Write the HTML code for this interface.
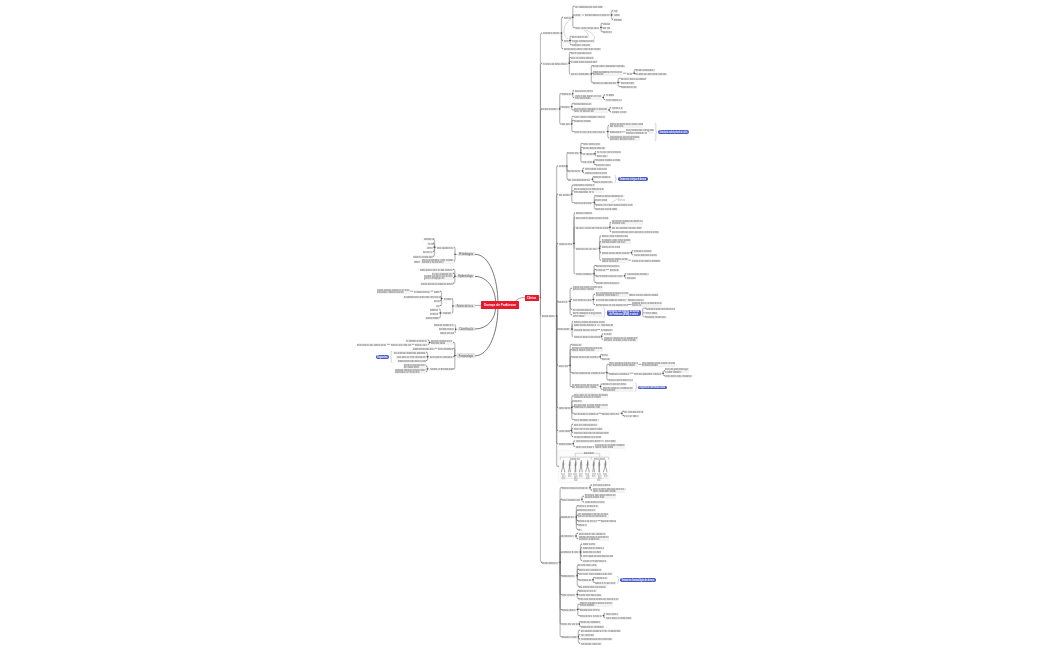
<!DOCTYPE html>
<html><head><meta charset="utf-8"><style>
html,body{margin:0;padding:0;background:#fff;width:1050px;height:650px;overflow:hidden}
.t{position:absolute;font-family:"Liberation Serif",serif;font-size:3.4px;line-height:2.1px;white-space:nowrap;transform:scaleX(0.58);transform-origin:0 0}
.t div{overflow:hidden;height:2.1px}
.u{position:absolute;background:#f3f3f3;border-radius:0.3px}
.box{position:absolute;font-family:"Liberation Sans",sans-serif;white-space:nowrap;display:flex;align-items:center;justify-content:center;overflow:visible}
.box span{display:inline-block;white-space:nowrap}
svg{position:absolute;left:0;top:0}
</style></head><body>
<svg width="1050" height="650" viewBox="0 0 1050 650">
<rect x="558.8" y="450.1" width="50.9" height="32.2" fill="#fcfcfc" stroke="#eee" stroke-width="0.4"/>
<path d="M540.40,297.60 V35.00 Q540.40,33.00 542.40,33.00 H542.20" stroke="#707070" stroke-width="1.0" fill="none" opacity="0.5"/>
<path d="M541.20,32.45 L542.30,33.00 L541.20,33.55z" fill="#666"/>
<path d="M540.40,297.60 V65.30 Q540.40,63.30 542.40,63.30 H542.20" stroke="#707070" stroke-width="1.0" fill="none" opacity="0.5"/>
<path d="M541.20,62.75 L542.30,63.30 L541.20,63.85z" fill="#666"/>
<path d="M540.40,297.60 V110.90 Q540.40,108.90 542.40,108.90 H542.10" stroke="#707070" stroke-width="1.0" fill="none" opacity="0.5"/>
<path d="M541.10,108.35 L542.20,108.90 L541.10,109.45z" fill="#666"/>
<path d="M540.40,297.60 V313.90 Q540.40,315.90 542.40,315.90 H541.40" stroke="#707070" stroke-width="1.0" fill="none" opacity="0.5"/>
<path d="M540.40,315.35 L541.50,315.90 L540.40,316.45z" fill="#666"/>
<path d="M540.40,297.60 V560.40 Q540.40,562.40 542.40,562.40 H542.10" stroke="#707070" stroke-width="1.0" fill="none" opacity="0.5"/>
<path d="M541.10,561.85 L542.20,562.40 L541.10,562.95z" fill="#666"/>
<path d="M556.60,315.90 V464.30 Q556.60,466.30 558.60,466.30 H558.80" stroke="#707070" stroke-width="1.3" fill="none" opacity="0.45"/>
<path d="M557.80,465.75 L558.90,466.30 L557.80,466.85z" fill="#666"/>
<path d="M559.30,33.00 H561.50" stroke="#8a8a8a" stroke-width="0.7" fill="none" opacity="0.8"/>
<path d="M561.50,33.00 V18.70 Q561.50,17.20 563.00,17.20 H563.20" stroke="#707070" stroke-width="1.3" fill="none" opacity="0.45"/>
<path d="M562.20,16.65 L563.30,17.20 L562.20,17.75z" fill="#666"/>
<path d="M561.50,33.00 V39.00 Q561.50,40.50 563.00,40.50 H563.20" stroke="#707070" stroke-width="1.3" fill="none" opacity="0.45"/>
<path d="M562.20,39.95 L563.30,40.50 L562.20,41.05z" fill="#666"/>
<path d="M561.50,33.00 V47.20 Q561.50,48.70 563.00,48.70 H563.20" stroke="#707070" stroke-width="1.3" fill="none" opacity="0.45"/>
<path d="M562.20,48.15 L563.30,48.70 L562.20,49.25z" fill="#666"/>
<circle cx="561.50" cy="33.00" r="0.75" fill="#444"/>
<path d="M571.30,17.20 H572.80" stroke="#8a8a8a" stroke-width="0.7" fill="none" opacity="0.8"/>
<path d="M572.80,17.20 V7.70 Q572.80,6.20 574.30,6.20 H574.70" stroke="#707070" stroke-width="1.3" fill="none" opacity="0.45"/>
<path d="M573.70,5.65 L574.80,6.20 L573.70,6.75z" fill="#666"/>
<path d="M572.80,17.20 V16.50 Q572.80,15.00 574.30,15.00 H574.70" stroke="#707070" stroke-width="1.3" fill="none" opacity="0.45"/>
<path d="M573.70,14.45 L574.80,15.00 L573.70,15.55z" fill="#666"/>
<path d="M572.80,17.20 V26.00 Q572.80,27.50 574.30,27.50 H574.70" stroke="#707070" stroke-width="1.3" fill="none" opacity="0.45"/>
<path d="M573.70,26.95 L574.80,27.50 L573.70,28.05z" fill="#666"/>
<circle cx="572.80" cy="17.20" r="0.75" fill="#444"/>
<path d="M581.50,15.00 H584.00" stroke="#666" stroke-width="0.6" fill="none" opacity="1"/>
<path d="M609.30,15.00 H611.50" stroke="#8a8a8a" stroke-width="0.7" fill="none" opacity="0.8"/>
<path d="M611.50,15.00 V12.00 Q611.50,10.50 613.00,10.50 H613.20" stroke="#707070" stroke-width="1.3" fill="none" opacity="0.45"/>
<path d="M612.20,9.95 L613.30,10.50 L612.20,11.05z" fill="#666"/>
<path d="M611.50,15.00 H613.20" stroke="#707070" stroke-width="1.3" fill="none" opacity="0.45"/>
<path d="M611.50,15.00 V17.80 Q611.50,19.30 613.00,19.30 H613.20" stroke="#707070" stroke-width="1.3" fill="none" opacity="0.45"/>
<path d="M612.20,18.75 L613.30,19.30 L612.20,19.85z" fill="#666"/>
<circle cx="611.50" cy="15.00" r="0.75" fill="#444"/>
<path d="M599.30,27.50 H601.00" stroke="#8a8a8a" stroke-width="0.7" fill="none" opacity="0.8"/>
<path d="M601.00,27.50 V24.80 Q601.00,23.30 602.50,23.30 H602.70" stroke="#707070" stroke-width="1.3" fill="none" opacity="0.45"/>
<path d="M601.70,22.75 L602.80,23.30 L601.70,23.85z" fill="#666"/>
<path d="M601.00,27.50 H602.70" stroke="#707070" stroke-width="1.3" fill="none" opacity="0.45"/>
<path d="M601.00,27.50 V30.30 Q601.00,31.80 602.50,31.80 H602.70" stroke="#707070" stroke-width="1.3" fill="none" opacity="0.45"/>
<path d="M601.70,31.25 L602.80,31.80 L601.70,32.35z" fill="#666"/>
<circle cx="601.00" cy="27.50" r="0.75" fill="#444"/>
<path d="M568.30,40.50 H570.00" stroke="#8a8a8a" stroke-width="0.7" fill="none" opacity="0.8"/>
<path d="M570.00,40.50 V37.80 Q570.00,36.30 571.50,36.30 H571.70" stroke="#707070" stroke-width="1.3" fill="none" opacity="0.45"/>
<path d="M570.70,35.75 L571.80,36.30 L570.70,36.85z" fill="#666"/>
<path d="M570.00,40.50 H571.70" stroke="#707070" stroke-width="1.3" fill="none" opacity="0.45"/>
<path d="M570.00,40.50 V43.30 Q570.00,44.80 571.50,44.80 H571.70" stroke="#707070" stroke-width="1.3" fill="none" opacity="0.45"/>
<path d="M570.70,44.25 L571.80,44.80 L570.70,45.35z" fill="#666"/>
<circle cx="570.00" cy="40.50" r="0.75" fill="#444"/>
<path d="M567.30,63.30 H569.40" stroke="#8a8a8a" stroke-width="0.7" fill="none" opacity="0.8"/>
<path d="M569.40,63.30 V54.00 Q569.40,52.50 570.90,52.50 H570.70" stroke="#707070" stroke-width="1.3" fill="none" opacity="0.45"/>
<path d="M569.70,51.95 L570.80,52.50 L569.70,53.05z" fill="#666"/>
<path d="M569.40,63.30 V58.80 Q569.40,57.30 570.90,57.30 H570.70" stroke="#707070" stroke-width="1.3" fill="none" opacity="0.45"/>
<path d="M569.70,56.75 L570.80,57.30 L569.70,57.85z" fill="#666"/>
<path d="M569.40,63.30 V62.70 Q569.40,61.20 570.90,61.20 H570.70" stroke="#707070" stroke-width="1.3" fill="none" opacity="0.45"/>
<path d="M569.70,60.65 L570.80,61.20 L569.70,61.75z" fill="#666"/>
<path d="M569.40,63.30 V72.40 Q569.40,73.90 570.90,73.90 H570.60" stroke="#707070" stroke-width="1.3" fill="none" opacity="0.45"/>
<path d="M569.60,73.35 L570.70,73.90 L569.60,74.45z" fill="#666"/>
<circle cx="569.40" cy="63.30" r="0.75" fill="#444"/>
<path d="M589.70,73.90 H591.30" stroke="#8a8a8a" stroke-width="0.7" fill="none" opacity="0.8"/>
<path d="M591.30,73.90 V67.10 Q591.30,65.60 592.80,65.60 H592.80" stroke="#707070" stroke-width="1.3" fill="none" opacity="0.45"/>
<path d="M591.80,65.05 L592.90,65.60 L591.80,66.15z" fill="#666"/>
<path d="M591.30,73.90 V73.90 Q591.30,73.20 592.00,73.20 H592.80" stroke="#707070" stroke-width="1.3" fill="none" opacity="0.45"/>
<path d="M591.80,72.65 L592.90,73.20 L591.80,73.75z" fill="#666"/>
<path d="M591.30,73.90 V81.00 Q591.30,82.50 592.80,82.50 H592.80" stroke="#707070" stroke-width="1.3" fill="none" opacity="0.45"/>
<path d="M591.80,81.95 L592.90,82.50 L591.80,83.05z" fill="#666"/>
<circle cx="591.30" cy="73.90" r="0.75" fill="#444"/>
<path d="M622.60,73.20 H626.10" stroke="#666" stroke-width="0.6" fill="none" opacity="1"/>
<path d="M632.30,73.20 H634.20" stroke="#8a8a8a" stroke-width="0.7" fill="none" opacity="0.8"/>
<path d="M634.20,73.20 V71.20 Q634.20,69.70 635.70,69.70 H635.90" stroke="#707070" stroke-width="1.3" fill="none" opacity="0.45"/>
<path d="M634.90,69.15 L636.00,69.70 L634.90,70.25z" fill="#666"/>
<path d="M634.20,73.20 V73.20 Q634.20,73.90 634.90,73.90 H635.90" stroke="#707070" stroke-width="1.3" fill="none" opacity="0.45"/>
<path d="M634.90,73.35 L636.00,73.90 L634.90,74.45z" fill="#666"/>
<circle cx="634.20" cy="73.20" r="0.75" fill="#444"/>
<path d="M616.40,82.50 H618.10" stroke="#8a8a8a" stroke-width="0.7" fill="none" opacity="0.8"/>
<path d="M618.10,82.50 V79.80 Q618.10,78.30 619.60,78.30 H620.70" stroke="#707070" stroke-width="1.3" fill="none" opacity="0.45"/>
<path d="M619.70,77.75 L620.80,78.30 L619.70,78.85z" fill="#666"/>
<path d="M618.10,82.50 H620.70" stroke="#707070" stroke-width="1.3" fill="none" opacity="0.45"/>
<path d="M618.10,82.50 V85.10 Q618.10,86.60 619.60,86.60 H620.70" stroke="#707070" stroke-width="1.3" fill="none" opacity="0.45"/>
<path d="M619.70,86.05 L620.80,86.60 L619.70,87.15z" fill="#666"/>
<circle cx="618.10" cy="82.50" r="0.75" fill="#444"/>
<path d="M558.20,108.90 H559.70" stroke="#8a8a8a" stroke-width="0.7" fill="none" opacity="0.8"/>
<path d="M559.70,108.90 V95.20 Q559.70,93.70 561.20,93.70 H561.70" stroke="#707070" stroke-width="1.3" fill="none" opacity="0.45"/>
<path d="M560.70,93.15 L561.80,93.70 L560.70,94.25z" fill="#666"/>
<path d="M559.70,108.90 V108.30 Q559.70,106.80 561.20,106.80 H561.70" stroke="#707070" stroke-width="1.3" fill="none" opacity="0.45"/>
<path d="M560.70,106.25 L561.80,106.80 L560.70,107.35z" fill="#666"/>
<path d="M559.70,108.90 V122.60 Q559.70,124.10 561.20,124.10 H561.70" stroke="#707070" stroke-width="1.3" fill="none" opacity="0.45"/>
<path d="M560.70,123.55 L561.80,124.10 L560.70,124.65z" fill="#666"/>
<circle cx="559.70" cy="108.90" r="0.75" fill="#444"/>
<path d="M571.80,93.70 H572.70" stroke="#8a8a8a" stroke-width="0.7" fill="none" opacity="0.8"/>
<path d="M572.70,93.70 V92.20 Q572.70,90.70 574.20,90.70 H574.30" stroke="#707070" stroke-width="1.3" fill="none" opacity="0.45"/>
<path d="M573.30,90.15 L574.40,90.70 L573.30,91.25z" fill="#666"/>
<path d="M572.70,93.70 V96.10 Q572.70,97.60 574.20,97.60 H574.30" stroke="#707070" stroke-width="1.3" fill="none" opacity="0.45"/>
<path d="M573.30,97.05 L574.40,97.60 L573.30,98.15z" fill="#666"/>
<circle cx="572.70" cy="93.70" r="0.75" fill="#444"/>
<path d="M601.40,97.60 H603.30" stroke="#8a8a8a" stroke-width="0.7" fill="none" opacity="0.8"/>
<path d="M603.30,97.60 V96.40 Q603.30,94.90 604.80,94.90 H605.20" stroke="#707070" stroke-width="1.3" fill="none" opacity="0.45"/>
<path d="M604.20,94.35 L605.30,94.90 L604.20,95.45z" fill="#666"/>
<path d="M603.30,97.60 V97.90 Q603.30,99.40 604.80,99.40 H605.20" stroke="#707070" stroke-width="1.3" fill="none" opacity="0.45"/>
<path d="M604.20,98.85 L605.30,99.40 L604.20,99.95z" fill="#666"/>
<circle cx="603.30" cy="97.60" r="0.75" fill="#444"/>
<path d="M569.90,106.80 H571.80" stroke="#8a8a8a" stroke-width="0.7" fill="none" opacity="0.8"/>
<path d="M571.80,106.80 V104.80 Q571.80,103.30 573.30,103.30 H573.70" stroke="#707070" stroke-width="1.3" fill="none" opacity="0.45"/>
<path d="M572.70,102.75 L573.80,103.30 L572.70,103.85z" fill="#666"/>
<path d="M571.80,106.80 V108.50 Q571.80,110.00 573.30,110.00 H573.70" stroke="#707070" stroke-width="1.3" fill="none" opacity="0.45"/>
<path d="M572.70,109.45 L573.80,110.00 L572.70,110.55z" fill="#666"/>
<circle cx="571.80" cy="106.80" r="0.75" fill="#444"/>
<path d="M607.30,110.00 H609.20" stroke="#8a8a8a" stroke-width="0.7" fill="none" opacity="0.8"/>
<path d="M609.20,110.00 V109.20 Q609.20,107.70 610.70,107.70 H611.40" stroke="#707070" stroke-width="1.3" fill="none" opacity="0.45"/>
<path d="M610.40,107.15 L611.50,107.70 L610.40,108.25z" fill="#666"/>
<path d="M609.20,110.00 V110.30 Q609.20,111.80 610.70,111.80 H611.40" stroke="#707070" stroke-width="1.3" fill="none" opacity="0.45"/>
<path d="M610.40,111.25 L611.50,111.80 L610.40,112.35z" fill="#666"/>
<circle cx="609.20" cy="110.00" r="0.75" fill="#444"/>
<path d="M569.90,124.10 H571.80" stroke="#8a8a8a" stroke-width="0.7" fill="none" opacity="0.8"/>
<path d="M571.80,124.10 V117.80 Q571.80,116.30 573.30,116.30 H573.70" stroke="#707070" stroke-width="1.3" fill="none" opacity="0.45"/>
<path d="M572.70,115.75 L573.80,116.30 L572.70,116.85z" fill="#666"/>
<path d="M571.80,124.10 V121.90 Q571.80,120.40 573.30,120.40 H573.70" stroke="#707070" stroke-width="1.3" fill="none" opacity="0.45"/>
<path d="M572.70,119.85 L573.80,120.40 L572.70,120.95z" fill="#666"/>
<path d="M571.80,124.10 V130.10 Q571.80,131.60 573.30,131.60 H573.70" stroke="#707070" stroke-width="1.3" fill="none" opacity="0.45"/>
<path d="M572.70,131.05 L573.80,131.60 L572.70,132.15z" fill="#666"/>
<circle cx="571.80" cy="124.10" r="0.75" fill="#444"/>
<path d="M605.30,131.60 H607.80" stroke="#8a8a8a" stroke-width="0.7" fill="none" opacity="0.8"/>
<path d="M607.80,131.60 V127.10 Q607.80,125.60 609.30,125.60 H609.60" stroke="#707070" stroke-width="1.3" fill="none" opacity="0.45"/>
<path d="M608.60,125.05 L609.70,125.60 L608.60,126.15z" fill="#666"/>
<path d="M607.80,131.60 H609.60" stroke="#707070" stroke-width="1.3" fill="none" opacity="0.45"/>
<path d="M607.80,131.60 V136.50 Q607.80,138.00 609.30,138.00 H609.60" stroke="#707070" stroke-width="1.3" fill="none" opacity="0.45"/>
<path d="M608.60,137.45 L609.70,138.00 L608.60,138.55z" fill="#666"/>
<circle cx="607.80" cy="131.60" r="0.75" fill="#444"/>
<path d="M622.10,131.80 H625.50" stroke="#666" stroke-width="0.6" fill="none" opacity="1"/>
<path d="M555.60,315.90 H556.60" stroke="#8a8a8a" stroke-width="0.7" fill="none" opacity="0.8"/>
<path d="M556.60,315.90 V167.50 Q556.60,166.00 558.10,166.00 H558.20" stroke="#707070" stroke-width="1.3" fill="none" opacity="0.45"/>
<path d="M557.20,165.45 L558.30,166.00 L557.20,166.55z" fill="#666"/>
<path d="M556.60,315.90 V195.70 Q556.60,194.20 558.10,194.20 H558.20" stroke="#707070" stroke-width="1.3" fill="none" opacity="0.45"/>
<path d="M557.20,193.65 L558.30,194.20 L557.20,194.75z" fill="#666"/>
<path d="M556.60,315.90 V244.90 Q556.60,243.40 558.10,243.40 H558.20" stroke="#707070" stroke-width="1.3" fill="none" opacity="0.45"/>
<path d="M557.20,242.85 L558.30,243.40 L557.20,243.95z" fill="#666"/>
<path d="M556.60,315.90 V302.70 Q556.60,301.20 558.10,301.20 H558.10" stroke="#707070" stroke-width="1.3" fill="none" opacity="0.45"/>
<path d="M557.10,300.65 L558.20,301.20 L557.10,301.75z" fill="#666"/>
<path d="M556.60,315.90 V327.40 Q556.60,328.90 558.10,328.90 H558.10" stroke="#707070" stroke-width="1.3" fill="none" opacity="0.45"/>
<path d="M557.10,328.35 L558.20,328.90 L557.10,329.45z" fill="#666"/>
<path d="M556.60,315.90 V363.90 Q556.60,365.40 558.10,365.40 H558.20" stroke="#707070" stroke-width="1.3" fill="none" opacity="0.45"/>
<path d="M557.20,364.85 L558.30,365.40 L557.20,365.95z" fill="#666"/>
<path d="M556.60,315.90 V406.00 Q556.60,407.50 558.10,407.50 H558.20" stroke="#707070" stroke-width="1.3" fill="none" opacity="0.45"/>
<path d="M557.20,406.95 L558.30,407.50 L557.20,408.05z" fill="#666"/>
<path d="M556.60,315.90 V428.90 Q556.60,430.40 558.10,430.40 H558.20" stroke="#707070" stroke-width="1.3" fill="none" opacity="0.45"/>
<path d="M557.20,429.85 L558.30,430.40 L557.20,430.95z" fill="#666"/>
<path d="M556.60,315.90 V442.20 Q556.60,443.70 558.10,443.70 H558.20" stroke="#707070" stroke-width="1.3" fill="none" opacity="0.45"/>
<path d="M557.20,443.15 L558.30,443.70 L557.20,444.25z" fill="#666"/>
<circle cx="556.60" cy="315.90" r="0.75" fill="#444"/>
<path d="M565.60,166.00 H566.90" stroke="#8a8a8a" stroke-width="0.7" fill="none" opacity="0.8"/>
<path d="M566.90,166.00 V154.20 Q566.90,152.70 568.40,152.70 H568.10" stroke="#707070" stroke-width="1.3" fill="none" opacity="0.45"/>
<path d="M567.10,152.15 L568.20,152.70 L567.10,153.25z" fill="#666"/>
<path d="M566.90,166.00 V169.40 Q566.90,170.90 568.40,170.90 H568.10" stroke="#707070" stroke-width="1.3" fill="none" opacity="0.45"/>
<path d="M567.10,170.35 L568.20,170.90 L567.10,171.45z" fill="#666"/>
<path d="M566.90,166.00 V177.80 Q566.90,179.30 568.40,179.30 H568.10" stroke="#707070" stroke-width="1.3" fill="none" opacity="0.45"/>
<path d="M567.10,178.75 L568.20,179.30 L567.10,179.85z" fill="#666"/>
<circle cx="566.90" cy="166.00" r="0.75" fill="#444"/>
<path d="M579.20,152.70 H580.80" stroke="#8a8a8a" stroke-width="0.7" fill="none" opacity="0.8"/>
<path d="M580.80,152.70 V144.90 Q580.80,143.40 582.30,143.40 H582.70" stroke="#707070" stroke-width="1.3" fill="none" opacity="0.45"/>
<path d="M581.70,142.85 L582.80,143.40 L581.70,143.95z" fill="#666"/>
<path d="M580.80,152.70 V148.90 Q580.80,147.40 582.30,147.40 H582.70" stroke="#707070" stroke-width="1.3" fill="none" opacity="0.45"/>
<path d="M581.70,146.85 L582.80,147.40 L581.70,147.95z" fill="#666"/>
<path d="M580.80,152.70 V152.70 Q580.80,153.80 581.90,153.80 H582.70" stroke="#707070" stroke-width="1.3" fill="none" opacity="0.45"/>
<path d="M581.70,153.25 L582.80,153.80 L581.70,154.35z" fill="#666"/>
<path d="M580.80,152.70 V160.50 Q580.80,162.00 582.30,162.00 H582.70" stroke="#707070" stroke-width="1.3" fill="none" opacity="0.45"/>
<path d="M581.70,161.45 L582.80,162.00 L581.70,162.55z" fill="#666"/>
<circle cx="580.80" cy="152.70" r="0.75" fill="#444"/>
<path d="M594.10,153.80 H595.00" stroke="#8a8a8a" stroke-width="0.7" fill="none" opacity="0.8"/>
<path d="M595.00,153.80 V153.00 Q595.00,151.50 596.50,151.50 H596.60" stroke="#707070" stroke-width="1.3" fill="none" opacity="0.45"/>
<path d="M595.60,150.95 L596.70,151.50 L595.60,152.05z" fill="#666"/>
<path d="M595.00,153.80 V154.30 Q595.00,155.80 596.50,155.80 H596.60" stroke="#707070" stroke-width="1.3" fill="none" opacity="0.45"/>
<path d="M595.60,155.25 L596.70,155.80 L595.60,156.35z" fill="#666"/>
<circle cx="595.00" cy="153.80" r="0.75" fill="#444"/>
<path d="M592.30,162.00 H593.80" stroke="#8a8a8a" stroke-width="0.7" fill="none" opacity="0.8"/>
<path d="M593.80,162.00 V161.30 Q593.80,159.80 595.30,159.80 H595.90" stroke="#707070" stroke-width="1.3" fill="none" opacity="0.45"/>
<path d="M594.90,159.25 L596.00,159.80 L594.90,160.35z" fill="#666"/>
<path d="M593.80,162.00 V163.00 Q593.80,164.50 595.30,164.50 H595.90" stroke="#707070" stroke-width="1.3" fill="none" opacity="0.45"/>
<path d="M594.90,163.95 L596.00,164.50 L594.90,165.05z" fill="#666"/>
<circle cx="593.80" cy="162.00" r="0.75" fill="#444"/>
<path d="M581.10,170.90 H582.60" stroke="#8a8a8a" stroke-width="0.7" fill="none" opacity="0.8"/>
<path d="M582.60,170.90 V169.70 Q582.60,168.20 584.10,168.20 H584.20" stroke="#707070" stroke-width="1.3" fill="none" opacity="0.45"/>
<path d="M583.20,167.65 L584.30,168.20 L583.20,168.75z" fill="#666"/>
<path d="M582.60,170.90 V171.30 Q582.60,172.80 584.10,172.80 H584.20" stroke="#707070" stroke-width="1.3" fill="none" opacity="0.45"/>
<path d="M583.20,172.25 L584.30,172.80 L583.20,173.35z" fill="#666"/>
<circle cx="582.60" cy="170.90" r="0.75" fill="#444"/>
<path d="M591.00,179.30 H592.50" stroke="#8a8a8a" stroke-width="0.7" fill="none" opacity="0.8"/>
<path d="M592.50,179.30 V178.30 Q592.50,176.80 594.00,176.80 H594.10" stroke="#707070" stroke-width="1.3" fill="none" opacity="0.45"/>
<path d="M593.10,176.25 L594.20,176.80 L593.10,177.35z" fill="#666"/>
<path d="M592.50,179.30 V179.90 Q592.50,181.40 594.00,181.40 H594.10" stroke="#707070" stroke-width="1.3" fill="none" opacity="0.45"/>
<path d="M593.10,180.85 L594.20,181.40 L593.10,181.95z" fill="#666"/>
<circle cx="592.50" cy="179.30" r="0.75" fill="#444"/>
<path d="M570.50,194.20 H571.80" stroke="#8a8a8a" stroke-width="0.7" fill="none" opacity="0.8"/>
<path d="M571.80,194.20 V186.60 Q571.80,185.10 573.30,185.10 H573.70" stroke="#707070" stroke-width="1.3" fill="none" opacity="0.45"/>
<path d="M572.70,184.55 L573.80,185.10 L572.70,185.65z" fill="#666"/>
<path d="M571.80,194.20 V192.30 Q571.80,190.80 573.30,190.80 H573.70" stroke="#707070" stroke-width="1.3" fill="none" opacity="0.45"/>
<path d="M572.70,190.25 L573.80,190.80 L572.70,191.35z" fill="#666"/>
<path d="M571.80,194.20 V201.00 Q571.80,202.50 573.30,202.50 H573.70" stroke="#707070" stroke-width="1.3" fill="none" opacity="0.45"/>
<path d="M572.70,201.95 L573.80,202.50 L572.70,203.05z" fill="#666"/>
<circle cx="571.80" cy="194.20" r="0.75" fill="#444"/>
<path d="M592.20,202.50 H594.40" stroke="#8a8a8a" stroke-width="0.7" fill="none" opacity="0.8"/>
<path d="M594.40,202.50 V197.20 Q594.40,195.70 595.90,195.70 H595.90" stroke="#707070" stroke-width="1.3" fill="none" opacity="0.45"/>
<path d="M594.90,195.15 L596.00,195.70 L594.90,196.25z" fill="#666"/>
<path d="M594.40,202.50 V201.50 Q594.40,200.00 595.90,200.00 H595.90" stroke="#707070" stroke-width="1.3" fill="none" opacity="0.45"/>
<path d="M594.90,199.45 L596.00,200.00 L594.90,200.55z" fill="#666"/>
<path d="M594.40,202.50 V202.80 Q594.40,204.30 595.90,204.30 H595.90" stroke="#707070" stroke-width="1.3" fill="none" opacity="0.45"/>
<path d="M594.90,203.75 L596.00,204.30 L594.90,204.85z" fill="#666"/>
<path d="M594.40,202.50 V207.50 Q594.40,209.00 595.90,209.00 H595.90" stroke="#707070" stroke-width="1.3" fill="none" opacity="0.45"/>
<path d="M594.90,208.45 L596.00,209.00 L594.90,209.55z" fill="#666"/>
<circle cx="594.40" cy="202.50" r="0.75" fill="#444"/>
<path d="M572.40,243.40 H574.00" stroke="#8a8a8a" stroke-width="0.7" fill="none" opacity="0.8"/>
<path d="M574.00,243.40 V214.50 Q574.00,213.00 575.50,213.00 H575.50" stroke="#707070" stroke-width="1.3" fill="none" opacity="0.45"/>
<path d="M574.50,212.45 L575.60,213.00 L574.50,213.55z" fill="#666"/>
<path d="M574.00,243.40 V218.90 Q574.00,217.40 575.50,217.40 H575.50" stroke="#707070" stroke-width="1.3" fill="none" opacity="0.45"/>
<path d="M574.50,216.85 L575.60,217.40 L574.50,217.95z" fill="#666"/>
<path d="M574.00,243.40 V228.80 Q574.00,227.30 575.50,227.30 H575.50" stroke="#707070" stroke-width="1.3" fill="none" opacity="0.45"/>
<path d="M574.50,226.75 L575.60,227.30 L574.50,227.85z" fill="#666"/>
<path d="M574.00,243.40 V246.80 Q574.00,248.30 575.50,248.30 H575.50" stroke="#707070" stroke-width="1.3" fill="none" opacity="0.45"/>
<path d="M574.50,247.75 L575.60,248.30 L574.50,248.85z" fill="#666"/>
<path d="M574.00,243.40 V272.20 Q574.00,273.70 575.50,273.70 H575.50" stroke="#707070" stroke-width="1.3" fill="none" opacity="0.45"/>
<path d="M574.50,273.15 L575.60,273.70 L574.50,274.25z" fill="#666"/>
<circle cx="574.00" cy="243.40" r="0.75" fill="#444"/>
<path d="M608.30,227.30 H609.90" stroke="#8a8a8a" stroke-width="0.7" fill="none" opacity="0.8"/>
<path d="M609.90,227.30 V224.10 Q609.90,222.60 611.40,222.60 H611.40" stroke="#707070" stroke-width="1.3" fill="none" opacity="0.45"/>
<path d="M610.40,222.05 L611.50,222.60 L610.40,223.15z" fill="#666"/>
<path d="M609.90,227.30 H611.40" stroke="#707070" stroke-width="1.3" fill="none" opacity="0.45"/>
<path d="M609.90,227.30 V230.10 Q609.90,231.60 611.40,231.60 H611.40" stroke="#707070" stroke-width="1.3" fill="none" opacity="0.45"/>
<path d="M610.40,231.05 L611.50,231.60 L610.40,232.15z" fill="#666"/>
<circle cx="609.90" cy="227.30" r="0.75" fill="#444"/>
<path d="M597.80,248.30 H599.60" stroke="#8a8a8a" stroke-width="0.7" fill="none" opacity="0.8"/>
<path d="M599.60,248.30 V237.50 Q599.60,236.00 601.10,236.00 H601.50" stroke="#707070" stroke-width="1.3" fill="none" opacity="0.45"/>
<path d="M600.50,235.45 L601.60,236.00 L600.50,236.55z" fill="#666"/>
<path d="M599.60,248.30 V243.10 Q599.60,241.60 601.10,241.60 H601.50" stroke="#707070" stroke-width="1.3" fill="none" opacity="0.45"/>
<path d="M600.50,241.05 L601.60,241.60 L600.50,242.15z" fill="#666"/>
<path d="M599.60,248.30 V247.70 Q599.60,246.20 601.10,246.20 H601.50" stroke="#707070" stroke-width="1.3" fill="none" opacity="0.45"/>
<path d="M600.50,245.65 L601.60,246.20 L600.50,246.75z" fill="#666"/>
<path d="M599.60,248.30 V251.20 Q599.60,252.70 601.10,252.70 H601.50" stroke="#707070" stroke-width="1.3" fill="none" opacity="0.45"/>
<path d="M600.50,252.15 L601.60,252.70 L600.50,253.25z" fill="#666"/>
<path d="M599.60,248.30 V258.70 Q599.60,260.20 601.10,260.20 H601.50" stroke="#707070" stroke-width="1.3" fill="none" opacity="0.45"/>
<path d="M600.50,259.65 L601.60,260.20 L600.50,260.75z" fill="#666"/>
<circle cx="599.60" cy="248.30" r="0.75" fill="#444"/>
<path d="M630.10,252.70 H631.50" stroke="#8a8a8a" stroke-width="0.7" fill="none" opacity="0.8"/>
<path d="M631.50,252.70 V252.10 Q631.50,250.60 633.00,250.60 H633.50" stroke="#707070" stroke-width="1.3" fill="none" opacity="0.45"/>
<path d="M632.50,250.05 L633.60,250.60 L632.50,251.15z" fill="#666"/>
<path d="M631.50,252.70 V253.30 Q631.50,254.80 633.00,254.80 H633.50" stroke="#707070" stroke-width="1.3" fill="none" opacity="0.45"/>
<path d="M632.50,254.25 L633.60,254.80 L632.50,255.35z" fill="#666"/>
<circle cx="631.50" cy="252.70" r="0.75" fill="#444"/>
<path d="M628.30,260.20 H631.00" stroke="#666" stroke-width="0.6" fill="none" opacity="1"/>
<path d="M592.20,273.70 H594.10" stroke="#8a8a8a" stroke-width="0.7" fill="none" opacity="0.8"/>
<path d="M594.10,273.70 V266.90 Q594.10,265.40 595.60,265.40 H595.90" stroke="#707070" stroke-width="1.3" fill="none" opacity="0.45"/>
<path d="M594.90,264.85 L596.00,265.40 L594.90,265.95z" fill="#666"/>
<path d="M594.10,273.70 V271.10 Q594.10,269.60 595.60,269.60 H595.90" stroke="#707070" stroke-width="1.3" fill="none" opacity="0.45"/>
<path d="M594.90,269.05 L596.00,269.60 L594.90,270.15z" fill="#666"/>
<path d="M594.10,273.70 V274.30 Q594.10,275.80 595.60,275.80 H595.90" stroke="#707070" stroke-width="1.3" fill="none" opacity="0.45"/>
<path d="M594.90,275.25 L596.00,275.80 L594.90,276.35z" fill="#666"/>
<path d="M594.10,273.70 V280.90 Q594.10,282.40 595.60,282.40 H595.90" stroke="#707070" stroke-width="1.3" fill="none" opacity="0.45"/>
<path d="M594.90,281.85 L596.00,282.40 L594.90,282.95z" fill="#666"/>
<circle cx="594.10" cy="273.70" r="0.75" fill="#444"/>
<path d="M606.00,269.60 H609.40" stroke="#666" stroke-width="0.6" fill="none" opacity="1"/>
<path d="M623.20,275.80 H624.70" stroke="#8a8a8a" stroke-width="0.7" fill="none" opacity="0.8"/>
<path d="M624.70,275.80 V275.00 Q624.70,273.50 626.20,273.50 H626.50" stroke="#707070" stroke-width="1.3" fill="none" opacity="0.45"/>
<path d="M625.50,272.95 L626.60,273.50 L625.50,274.05z" fill="#666"/>
<path d="M624.70,275.80 V276.50 Q624.70,278.00 626.20,278.00 H626.50" stroke="#707070" stroke-width="1.3" fill="none" opacity="0.45"/>
<path d="M625.50,277.45 L626.60,278.00 L625.50,278.55z" fill="#666"/>
<circle cx="624.70" cy="275.80" r="0.75" fill="#444"/>
<path d="M568.00,301.20 H570.10" stroke="#8a8a8a" stroke-width="0.7" fill="none" opacity="0.8"/>
<path d="M570.10,301.20 V289.70 Q570.10,288.20 571.60,288.20 H572.30" stroke="#707070" stroke-width="1.3" fill="none" opacity="0.45"/>
<path d="M571.30,287.65 L572.40,288.20 L571.30,288.75z" fill="#666"/>
<path d="M570.10,301.20 V300.90 Q570.10,299.40 571.60,299.40 H572.30" stroke="#707070" stroke-width="1.3" fill="none" opacity="0.45"/>
<path d="M571.30,298.85 L572.40,299.40 L571.30,299.95z" fill="#666"/>
<path d="M570.10,301.20 V307.80 Q570.10,309.30 571.60,309.30 H572.30" stroke="#707070" stroke-width="1.3" fill="none" opacity="0.45"/>
<path d="M571.30,308.75 L572.40,309.30 L571.30,309.85z" fill="#666"/>
<path d="M570.10,301.20 V313.30 Q570.10,314.80 571.60,314.80 H572.30" stroke="#707070" stroke-width="1.3" fill="none" opacity="0.45"/>
<path d="M571.30,314.25 L572.40,314.80 L571.30,315.35z" fill="#666"/>
<circle cx="570.10" cy="301.20" r="0.75" fill="#444"/>
<path d="M591.50,299.40 H593.30" stroke="#8a8a8a" stroke-width="0.7" fill="none" opacity="0.8"/>
<path d="M593.30,299.40 V295.70 Q593.30,294.20 594.80,294.20 H595.20" stroke="#707070" stroke-width="1.3" fill="none" opacity="0.45"/>
<path d="M594.20,293.65 L595.30,294.20 L594.20,294.75z" fill="#666"/>
<path d="M593.30,299.40 H595.20" stroke="#707070" stroke-width="1.3" fill="none" opacity="0.45"/>
<path d="M593.30,299.40 V303.00 Q593.30,304.50 594.80,304.50 H595.20" stroke="#707070" stroke-width="1.3" fill="none" opacity="0.45"/>
<path d="M594.20,303.95 L595.30,304.50 L594.20,305.05z" fill="#666"/>
<circle cx="593.30" cy="299.40" r="0.75" fill="#444"/>
<path d="M628.20,294.20 H628.50" stroke="#666" stroke-width="0.6" fill="none" opacity="1"/>
<path d="M626.40,299.40 H627.20" stroke="#666" stroke-width="0.6" fill="none" opacity="1"/>
<path d="M627.60,304.50 H631.50" stroke="#666" stroke-width="0.6" fill="none" opacity="1"/>
<path d="M570.40,328.90 H572.00" stroke="#8a8a8a" stroke-width="0.7" fill="none" opacity="0.8"/>
<path d="M572.00,328.90 V322.90 Q572.00,321.40 573.50,321.40 H573.60" stroke="#707070" stroke-width="1.3" fill="none" opacity="0.45"/>
<path d="M572.60,320.85 L573.70,321.40 L572.60,321.95z" fill="#666"/>
<path d="M572.00,328.90 V326.60 Q572.00,325.10 573.50,325.10 H573.60" stroke="#707070" stroke-width="1.3" fill="none" opacity="0.45"/>
<path d="M572.60,324.55 L573.70,325.10 L572.60,325.65z" fill="#666"/>
<path d="M572.00,328.90 V328.90 Q572.00,329.50 572.60,329.50 H573.60" stroke="#707070" stroke-width="1.3" fill="none" opacity="0.45"/>
<path d="M572.60,328.95 L573.70,329.50 L572.60,330.05z" fill="#666"/>
<path d="M572.00,328.90 V334.80 Q572.00,336.30 573.50,336.30 H573.60" stroke="#707070" stroke-width="1.3" fill="none" opacity="0.45"/>
<path d="M572.60,335.75 L573.70,336.30 L572.60,336.85z" fill="#666"/>
<circle cx="572.00" cy="328.90" r="0.75" fill="#444"/>
<path d="M596.60,325.10 H600.00" stroke="#666" stroke-width="0.6" fill="none" opacity="1"/>
<path d="M597.30,329.50 H600.00" stroke="#666" stroke-width="0.6" fill="none" opacity="1"/>
<path d="M600.80,336.30 H601.70" stroke="#8a8a8a" stroke-width="0.7" fill="none" opacity="0.8"/>
<path d="M601.70,336.30 V335.30 Q601.70,333.80 603.20,333.80 H603.60" stroke="#707070" stroke-width="1.3" fill="none" opacity="0.45"/>
<path d="M602.60,333.25 L603.70,333.80 L602.60,334.35z" fill="#666"/>
<path d="M601.70,336.30 V337.70 Q601.70,339.20 603.20,339.20 H603.60" stroke="#707070" stroke-width="1.3" fill="none" opacity="0.45"/>
<path d="M602.60,338.65 L603.70,339.20 L602.60,339.75z" fill="#666"/>
<circle cx="601.70" cy="336.30" r="0.75" fill="#444"/>
<path d="M568.10,365.40 H570.20" stroke="#8a8a8a" stroke-width="0.7" fill="none" opacity="0.8"/>
<path d="M570.20,365.40 V345.80 Q570.20,344.30 571.70,344.30 H571.80" stroke="#707070" stroke-width="1.3" fill="none" opacity="0.45"/>
<path d="M570.80,343.75 L571.90,344.30 L570.80,344.85z" fill="#666"/>
<path d="M570.20,365.40 V351.00 Q570.20,349.50 571.70,349.50 H571.80" stroke="#707070" stroke-width="1.3" fill="none" opacity="0.45"/>
<path d="M570.80,348.95 L571.90,349.50 L570.80,350.05z" fill="#666"/>
<path d="M570.20,365.40 V358.20 Q570.20,356.70 571.70,356.70 H571.80" stroke="#707070" stroke-width="1.3" fill="none" opacity="0.45"/>
<path d="M570.80,356.15 L571.90,356.70 L570.80,357.25z" fill="#666"/>
<path d="M570.20,365.40 V370.90 Q570.20,372.40 571.70,372.40 H571.80" stroke="#707070" stroke-width="1.3" fill="none" opacity="0.45"/>
<path d="M570.80,371.85 L571.90,372.40 L570.80,372.95z" fill="#666"/>
<path d="M570.20,365.40 V385.10 Q570.20,386.60 571.70,386.60 H571.80" stroke="#707070" stroke-width="1.3" fill="none" opacity="0.45"/>
<path d="M570.80,386.05 L571.90,386.60 L570.80,387.15z" fill="#666"/>
<circle cx="570.20" cy="365.40" r="0.75" fill="#444"/>
<path d="M599.00,356.70 H600.30" stroke="#8a8a8a" stroke-width="0.7" fill="none" opacity="0.8"/>
<path d="M600.30,356.70 V356.10 Q600.30,354.60 601.80,354.60 H601.70" stroke="#707070" stroke-width="1.3" fill="none" opacity="0.45"/>
<path d="M600.70,354.05 L601.80,354.60 L600.70,355.15z" fill="#666"/>
<path d="M600.30,356.70 V357.30 Q600.30,358.80 601.80,358.80 H601.70" stroke="#707070" stroke-width="1.3" fill="none" opacity="0.45"/>
<path d="M600.70,358.25 L601.80,358.80 L600.70,359.35z" fill="#666"/>
<circle cx="600.30" cy="356.70" r="0.75" fill="#444"/>
<path d="M605.20,372.40 H606.80" stroke="#8a8a8a" stroke-width="0.7" fill="none" opacity="0.8"/>
<path d="M606.80,372.40 V365.80 Q606.80,364.30 608.30,364.30 H608.70" stroke="#707070" stroke-width="1.3" fill="none" opacity="0.45"/>
<path d="M607.70,363.75 L608.80,364.30 L607.70,364.85z" fill="#666"/>
<path d="M606.80,372.40 V372.40 Q606.80,373.20 607.60,373.20 H608.70" stroke="#707070" stroke-width="1.3" fill="none" opacity="0.45"/>
<path d="M607.70,372.65 L608.80,373.20 L607.70,373.75z" fill="#666"/>
<path d="M606.80,372.40 V378.40 Q606.80,379.90 608.30,379.90 H608.70" stroke="#707070" stroke-width="1.3" fill="none" opacity="0.45"/>
<path d="M607.70,379.35 L608.80,379.90 L607.70,380.45z" fill="#666"/>
<circle cx="606.80" cy="372.40" r="0.75" fill="#444"/>
<path d="M638.20,364.30 H641.60" stroke="#666" stroke-width="0.6" fill="none" opacity="1"/>
<path d="M629.50,373.20 H633.50" stroke="#666" stroke-width="0.6" fill="none" opacity="1"/>
<path d="M661.60,373.20 H663.10" stroke="#8a8a8a" stroke-width="0.7" fill="none" opacity="0.8"/>
<path d="M663.10,373.20 V372.30 Q663.10,370.80 664.60,370.80 H665.10" stroke="#707070" stroke-width="1.3" fill="none" opacity="0.45"/>
<path d="M664.10,370.25 L665.20,370.80 L664.10,371.35z" fill="#666"/>
<path d="M663.10,373.20 V374.30 Q663.10,375.80 664.60,375.80 H665.10" stroke="#707070" stroke-width="1.3" fill="none" opacity="0.45"/>
<path d="M664.10,375.25 L665.20,375.80 L664.10,376.35z" fill="#666"/>
<circle cx="663.10" cy="373.20" r="0.75" fill="#444"/>
<path d="M599.00,386.60 H600.60" stroke="#8a8a8a" stroke-width="0.7" fill="none" opacity="0.8"/>
<path d="M600.60,386.60 V385.50 Q600.60,384.00 602.10,384.00 H602.70" stroke="#707070" stroke-width="1.3" fill="none" opacity="0.45"/>
<path d="M601.70,383.45 L602.80,384.00 L601.70,384.55z" fill="#666"/>
<path d="M600.60,386.60 V387.70 Q600.60,389.20 602.10,389.20 H602.70" stroke="#707070" stroke-width="1.3" fill="none" opacity="0.45"/>
<path d="M601.70,388.65 L602.80,389.20 L601.70,389.75z" fill="#666"/>
<circle cx="600.60" cy="386.60" r="0.75" fill="#444"/>
<path d="M570.50,407.50 H571.80" stroke="#8a8a8a" stroke-width="0.7" fill="none" opacity="0.8"/>
<path d="M571.80,407.50 V397.40 Q571.80,395.90 573.30,395.90 H573.70" stroke="#707070" stroke-width="1.3" fill="none" opacity="0.45"/>
<path d="M572.70,395.35 L573.80,395.90 L572.70,396.45z" fill="#666"/>
<path d="M571.80,407.50 V402.40 Q571.80,400.90 573.30,400.90 H573.70" stroke="#707070" stroke-width="1.3" fill="none" opacity="0.45"/>
<path d="M572.70,400.35 L573.80,400.90 L572.70,401.45z" fill="#666"/>
<path d="M571.80,407.50 V407.50 Q571.80,406.40 572.90,406.40 H573.70" stroke="#707070" stroke-width="1.3" fill="none" opacity="0.45"/>
<path d="M572.70,405.85 L573.80,406.40 L572.70,406.95z" fill="#666"/>
<path d="M571.80,407.50 V411.80 Q571.80,413.30 573.30,413.30 H573.70" stroke="#707070" stroke-width="1.3" fill="none" opacity="0.45"/>
<path d="M572.70,412.75 L573.80,413.30 L572.70,413.85z" fill="#666"/>
<path d="M571.80,407.50 V418.00 Q571.80,419.50 573.30,419.50 H573.70" stroke="#707070" stroke-width="1.3" fill="none" opacity="0.45"/>
<path d="M572.70,418.95 L573.80,419.50 L572.70,420.05z" fill="#666"/>
<circle cx="571.80" cy="407.50" r="0.75" fill="#444"/>
<path d="M598.60,413.30 H601.90" stroke="#666" stroke-width="0.6" fill="none" opacity="1"/>
<path d="M619.40,413.30 H621.90" stroke="#8a8a8a" stroke-width="0.7" fill="none" opacity="0.8"/>
<path d="M621.90,413.30 V412.70 Q621.90,411.20 623.40,411.20 H624.00" stroke="#707070" stroke-width="1.3" fill="none" opacity="0.45"/>
<path d="M623.00,410.65 L624.10,411.20 L623.00,411.75z" fill="#666"/>
<path d="M621.90,413.30 V414.00 Q621.90,415.50 623.40,415.50 H624.00" stroke="#707070" stroke-width="1.3" fill="none" opacity="0.45"/>
<path d="M623.00,414.95 L624.10,415.50 L623.00,416.05z" fill="#666"/>
<circle cx="621.90" cy="413.30" r="0.75" fill="#444"/>
<path d="M569.90,430.40 H571.50" stroke="#8a8a8a" stroke-width="0.7" fill="none" opacity="0.8"/>
<path d="M571.50,430.40 V425.70 Q571.50,424.20 573.00,424.20 H573.30" stroke="#707070" stroke-width="1.3" fill="none" opacity="0.45"/>
<path d="M572.30,423.65 L573.40,424.20 L572.30,424.75z" fill="#666"/>
<path d="M571.50,430.40 V429.80 Q571.50,428.30 573.00,428.30 H573.30" stroke="#707070" stroke-width="1.3" fill="none" opacity="0.45"/>
<path d="M572.30,427.75 L573.40,428.30 L572.30,428.85z" fill="#666"/>
<path d="M571.50,430.40 V430.80 Q571.50,432.30 573.00,432.30 H573.30" stroke="#707070" stroke-width="1.3" fill="none" opacity="0.45"/>
<path d="M572.30,431.75 L573.40,432.30 L572.30,432.85z" fill="#666"/>
<path d="M571.50,430.40 V435.10 Q571.50,436.60 573.00,436.60 H573.30" stroke="#707070" stroke-width="1.3" fill="none" opacity="0.45"/>
<path d="M572.30,436.05 L573.40,436.60 L572.30,437.15z" fill="#666"/>
<circle cx="571.50" cy="430.40" r="0.75" fill="#444"/>
<path d="M571.80,443.70 H573.30" stroke="#8a8a8a" stroke-width="0.7" fill="none" opacity="0.8"/>
<path d="M573.30,443.70 V442.50 Q573.30,441.00 574.80,441.00 H575.50" stroke="#707070" stroke-width="1.3" fill="none" opacity="0.45"/>
<path d="M574.50,440.45 L575.60,441.00 L574.50,441.55z" fill="#666"/>
<path d="M573.30,443.70 V445.00 Q573.30,446.50 574.80,446.50 H575.50" stroke="#707070" stroke-width="1.3" fill="none" opacity="0.45"/>
<path d="M574.50,445.95 L575.60,446.50 L574.50,447.05z" fill="#666"/>
<circle cx="573.30" cy="443.70" r="0.75" fill="#444"/>
<path d="M600.50,441.00 H604.40" stroke="#666" stroke-width="0.6" fill="none" opacity="1"/>
<path d="M594.30,446.50 H594.50" stroke="#666" stroke-width="0.6" fill="none" opacity="1"/>
<path d="M558.20,562.40 H560.10" stroke="#8a8a8a" stroke-width="0.7" fill="none" opacity="0.8"/>
<path d="M560.10,562.40 V489.20 Q560.10,487.70 561.60,487.70 H561.90" stroke="#707070" stroke-width="1.3" fill="none" opacity="0.45"/>
<path d="M560.90,487.15 L562.00,487.70 L560.90,488.25z" fill="#666"/>
<path d="M560.10,562.40 V500.70 Q560.10,499.20 561.60,499.20 H561.90" stroke="#707070" stroke-width="1.3" fill="none" opacity="0.45"/>
<path d="M560.90,498.65 L562.00,499.20 L560.90,499.75z" fill="#666"/>
<path d="M560.10,562.40 V518.60 Q560.10,517.10 561.60,517.10 H561.90" stroke="#707070" stroke-width="1.3" fill="none" opacity="0.45"/>
<path d="M560.90,516.55 L562.00,517.10 L560.90,517.65z" fill="#666"/>
<path d="M560.10,562.40 V537.50 Q560.10,536.00 561.60,536.00 H561.90" stroke="#707070" stroke-width="1.3" fill="none" opacity="0.45"/>
<path d="M560.90,535.45 L562.00,536.00 L560.90,536.55z" fill="#666"/>
<path d="M560.10,562.40 V553.60 Q560.10,552.10 561.60,552.10 H561.90" stroke="#707070" stroke-width="1.3" fill="none" opacity="0.45"/>
<path d="M560.90,551.55 L562.00,552.10 L560.90,552.65z" fill="#666"/>
<path d="M560.10,562.40 V574.30 Q560.10,575.80 561.60,575.80 H561.90" stroke="#707070" stroke-width="1.3" fill="none" opacity="0.45"/>
<path d="M560.90,575.25 L562.00,575.80 L560.90,576.35z" fill="#666"/>
<path d="M560.10,562.40 V593.10 Q560.10,594.60 561.60,594.60 H561.90" stroke="#707070" stroke-width="1.3" fill="none" opacity="0.45"/>
<path d="M560.90,594.05 L562.00,594.60 L560.90,595.15z" fill="#666"/>
<path d="M560.10,562.40 V608.10 Q560.10,609.60 561.60,609.60 H561.90" stroke="#707070" stroke-width="1.3" fill="none" opacity="0.45"/>
<path d="M560.90,609.05 L562.00,609.60 L560.90,610.15z" fill="#666"/>
<path d="M560.10,562.40 V622.50 Q560.10,624.00 561.60,624.00 H561.90" stroke="#707070" stroke-width="1.3" fill="none" opacity="0.45"/>
<path d="M560.90,623.45 L562.00,624.00 L560.90,624.55z" fill="#666"/>
<path d="M560.10,562.40 V635.30 Q560.10,636.80 561.60,636.80 H561.90" stroke="#707070" stroke-width="1.3" fill="none" opacity="0.45"/>
<path d="M560.90,636.25 L562.00,636.80 L560.90,637.35z" fill="#666"/>
<circle cx="560.10" cy="562.40" r="0.75" fill="#444"/>
<path d="M588.50,487.70 H590.00" stroke="#8a8a8a" stroke-width="0.7" fill="none" opacity="0.8"/>
<path d="M590.00,487.70 V486.50 Q590.00,485.00 591.50,485.00 H592.20" stroke="#707070" stroke-width="1.3" fill="none" opacity="0.45"/>
<path d="M591.20,484.45 L592.30,485.00 L591.20,485.55z" fill="#666"/>
<path d="M590.00,487.70 V488.60 Q590.00,490.10 591.50,490.10 H592.20" stroke="#707070" stroke-width="1.3" fill="none" opacity="0.45"/>
<path d="M591.20,489.55 L592.30,490.10 L591.20,490.65z" fill="#666"/>
<circle cx="590.00" cy="487.70" r="0.75" fill="#444"/>
<path d="M580.40,499.20 H582.00" stroke="#8a8a8a" stroke-width="0.7" fill="none" opacity="0.8"/>
<path d="M582.00,499.20 V497.70 Q582.00,496.20 583.50,496.20 H584.20" stroke="#707070" stroke-width="1.3" fill="none" opacity="0.45"/>
<path d="M583.20,495.65 L584.30,496.20 L583.20,496.75z" fill="#666"/>
<path d="M582.00,499.20 V500.40 Q582.00,501.90 583.50,501.90 H584.20" stroke="#707070" stroke-width="1.3" fill="none" opacity="0.45"/>
<path d="M583.20,501.35 L584.30,501.90 L583.20,502.45z" fill="#666"/>
<circle cx="582.00" cy="499.20" r="0.75" fill="#444"/>
<path d="M574.30,517.10 H576.40" stroke="#8a8a8a" stroke-width="0.7" fill="none" opacity="0.8"/>
<path d="M576.40,517.10 V507.30 Q576.40,505.80 577.90,505.80 H578.00" stroke="#707070" stroke-width="1.3" fill="none" opacity="0.45"/>
<path d="M577.00,505.25 L578.10,505.80 L577.00,506.35z" fill="#666"/>
<path d="M576.40,517.10 V511.60 Q576.40,510.10 577.90,510.10 H578.00" stroke="#707070" stroke-width="1.3" fill="none" opacity="0.45"/>
<path d="M577.00,509.55 L578.10,510.10 L577.00,510.65z" fill="#666"/>
<path d="M576.40,517.10 V516.70 Q576.40,515.20 577.90,515.20 H578.00" stroke="#707070" stroke-width="1.3" fill="none" opacity="0.45"/>
<path d="M577.00,514.65 L578.10,515.20 L577.00,515.75z" fill="#666"/>
<path d="M576.40,517.10 V519.10 Q576.40,520.60 577.90,520.60 H578.00" stroke="#707070" stroke-width="1.3" fill="none" opacity="0.45"/>
<path d="M577.00,520.05 L578.10,520.60 L577.00,521.15z" fill="#666"/>
<path d="M576.40,517.10 V523.30 Q576.40,524.80 577.90,524.80 H578.00" stroke="#707070" stroke-width="1.3" fill="none" opacity="0.45"/>
<path d="M577.00,524.25 L578.10,524.80 L577.00,525.35z" fill="#666"/>
<path d="M576.40,517.10 V527.80 Q576.40,529.30 577.90,529.30 H578.00" stroke="#707070" stroke-width="1.3" fill="none" opacity="0.45"/>
<path d="M577.00,528.75 L578.10,529.30 L577.00,529.85z" fill="#666"/>
<circle cx="576.40" cy="517.10" r="0.75" fill="#444"/>
<path d="M597.40,520.60 H600.70" stroke="#666" stroke-width="0.6" fill="none" opacity="1"/>
<path d="M574.30,536.00 H576.10" stroke="#8a8a8a" stroke-width="0.7" fill="none" opacity="0.8"/>
<path d="M576.10,536.00 V534.70 Q576.10,533.20 577.60,533.20 H578.20" stroke="#707070" stroke-width="1.3" fill="none" opacity="0.45"/>
<path d="M577.20,532.65 L578.30,533.20 L577.20,533.75z" fill="#666"/>
<path d="M576.10,536.00 V536.90 Q576.10,538.40 577.60,538.40 H578.20" stroke="#707070" stroke-width="1.3" fill="none" opacity="0.45"/>
<path d="M577.20,537.85 L578.30,538.40 L577.20,538.95z" fill="#666"/>
<circle cx="576.10" cy="536.00" r="0.75" fill="#444"/>
<path d="M578.60,552.10 H580.50" stroke="#8a8a8a" stroke-width="0.7" fill="none" opacity="0.8"/>
<path d="M580.50,552.10 V545.60 Q580.50,544.10 582.00,544.10 H582.30" stroke="#707070" stroke-width="1.3" fill="none" opacity="0.45"/>
<path d="M581.30,543.55 L582.40,544.10 L581.30,544.65z" fill="#666"/>
<path d="M580.50,552.10 V549.30 Q580.50,547.80 582.00,547.80 H582.30" stroke="#707070" stroke-width="1.3" fill="none" opacity="0.45"/>
<path d="M581.30,547.25 L582.40,547.80 L581.30,548.35z" fill="#666"/>
<path d="M580.50,552.10 H582.30" stroke="#707070" stroke-width="1.3" fill="none" opacity="0.45"/>
<path d="M580.50,552.10 V554.60 Q580.50,556.10 582.00,556.10 H582.30" stroke="#707070" stroke-width="1.3" fill="none" opacity="0.45"/>
<path d="M581.30,555.55 L582.40,556.10 L581.30,556.65z" fill="#666"/>
<path d="M580.50,552.10 V559.00 Q580.50,560.50 582.00,560.50 H582.30" stroke="#707070" stroke-width="1.3" fill="none" opacity="0.45"/>
<path d="M581.30,559.95 L582.40,560.50 L581.30,561.05z" fill="#666"/>
<circle cx="580.50" cy="552.10" r="0.75" fill="#444"/>
<path d="M575.50,575.80 H577.30" stroke="#8a8a8a" stroke-width="0.7" fill="none" opacity="0.8"/>
<path d="M577.30,575.80 V566.40 Q577.30,564.90 578.80,564.90 H579.00" stroke="#707070" stroke-width="1.3" fill="none" opacity="0.45"/>
<path d="M578.00,564.35 L579.10,564.90 L578.00,565.45z" fill="#666"/>
<path d="M577.30,575.80 V570.70 Q577.30,569.20 578.80,569.20 H579.00" stroke="#707070" stroke-width="1.3" fill="none" opacity="0.45"/>
<path d="M578.00,568.65 L579.10,569.20 L578.00,569.75z" fill="#666"/>
<path d="M577.30,575.80 V574.80 Q577.30,573.30 578.80,573.30 H579.00" stroke="#707070" stroke-width="1.3" fill="none" opacity="0.45"/>
<path d="M578.00,572.75 L579.10,573.30 L578.00,573.85z" fill="#666"/>
<path d="M577.30,575.80 V578.20 Q577.30,579.70 578.80,579.70 H579.00" stroke="#707070" stroke-width="1.3" fill="none" opacity="0.45"/>
<path d="M578.00,579.15 L579.10,579.70 L578.00,580.25z" fill="#666"/>
<path d="M577.30,575.80 V584.70 Q577.30,586.20 578.80,586.20 H579.00" stroke="#707070" stroke-width="1.3" fill="none" opacity="0.45"/>
<path d="M578.00,585.65 L579.10,586.20 L578.00,586.75z" fill="#666"/>
<circle cx="577.30" cy="575.80" r="0.75" fill="#444"/>
<path d="M591.60,579.70 H593.10" stroke="#8a8a8a" stroke-width="0.7" fill="none" opacity="0.8"/>
<path d="M593.10,579.70 V579.00 Q593.10,577.50 594.60,577.50 H594.70" stroke="#707070" stroke-width="1.3" fill="none" opacity="0.45"/>
<path d="M593.70,576.95 L594.80,577.50 L593.70,578.05z" fill="#666"/>
<path d="M593.10,579.70 V580.90 Q593.10,582.40 594.60,582.40 H594.70" stroke="#707070" stroke-width="1.3" fill="none" opacity="0.45"/>
<path d="M593.70,581.85 L594.80,582.40 L593.70,582.95z" fill="#666"/>
<circle cx="593.10" cy="579.70" r="0.75" fill="#444"/>
<path d="M575.50,594.60 H577.30" stroke="#8a8a8a" stroke-width="0.7" fill="none" opacity="0.8"/>
<path d="M577.30,594.60 V591.70 Q577.30,590.20 578.80,590.20 H579.00" stroke="#707070" stroke-width="1.3" fill="none" opacity="0.45"/>
<path d="M578.00,589.65 L579.10,590.20 L578.00,590.75z" fill="#666"/>
<path d="M577.30,594.60 H579.00" stroke="#707070" stroke-width="1.3" fill="none" opacity="0.45"/>
<path d="M577.30,594.60 V597.20 Q577.30,598.70 578.80,598.70 H579.00" stroke="#707070" stroke-width="1.3" fill="none" opacity="0.45"/>
<path d="M578.00,598.15 L579.10,598.70 L578.00,599.25z" fill="#666"/>
<circle cx="577.30" cy="594.60" r="0.75" fill="#444"/>
<path d="M576.10,609.60 H577.70" stroke="#8a8a8a" stroke-width="0.7" fill="none" opacity="0.8"/>
<path d="M577.70,609.60 V605.70 Q577.70,604.20 579.20,604.20 H579.80" stroke="#707070" stroke-width="1.3" fill="none" opacity="0.45"/>
<path d="M578.80,603.65 L579.90,604.20 L578.80,604.75z" fill="#666"/>
<path d="M577.70,609.60 V609.60 Q577.70,609.20 578.10,609.20 H579.80" stroke="#707070" stroke-width="1.3" fill="none" opacity="0.45"/>
<path d="M578.80,608.65 L579.90,609.20 L578.80,609.75z" fill="#666"/>
<path d="M577.70,609.60 V614.20 Q577.70,615.70 579.20,615.70 H579.80" stroke="#707070" stroke-width="1.3" fill="none" opacity="0.45"/>
<path d="M578.80,615.15 L579.90,615.70 L578.80,616.25z" fill="#666"/>
<circle cx="577.70" cy="609.60" r="0.75" fill="#444"/>
<path d="M601.90,615.70 H603.70" stroke="#8a8a8a" stroke-width="0.7" fill="none" opacity="0.8"/>
<path d="M603.70,615.70 V615.10 Q603.70,613.60 605.20,613.60 H605.50" stroke="#707070" stroke-width="1.3" fill="none" opacity="0.45"/>
<path d="M604.50,613.05 L605.60,613.60 L604.50,614.15z" fill="#666"/>
<path d="M603.70,615.70 V616.20 Q603.70,617.70 605.20,617.70 H605.50" stroke="#707070" stroke-width="1.3" fill="none" opacity="0.45"/>
<path d="M604.50,617.15 L605.60,617.70 L604.50,618.25z" fill="#666"/>
<circle cx="603.70" cy="615.70" r="0.75" fill="#444"/>
<path d="M578.00,624.00 H579.30" stroke="#8a8a8a" stroke-width="0.7" fill="none" opacity="0.8"/>
<path d="M579.30,624.00 V623.10 Q579.30,621.60 580.80,621.60 H580.70" stroke="#707070" stroke-width="1.3" fill="none" opacity="0.45"/>
<path d="M579.70,621.05 L580.80,621.60 L579.70,622.15z" fill="#666"/>
<path d="M579.30,624.00 V624.70 Q579.30,626.20 580.80,626.20 H580.70" stroke="#707070" stroke-width="1.3" fill="none" opacity="0.45"/>
<path d="M579.70,625.65 L580.80,626.20 L579.70,626.75z" fill="#666"/>
<circle cx="579.30" cy="624.00" r="0.75" fill="#444"/>
<path d="M578.00,636.80 H578.30" stroke="#8a8a8a" stroke-width="0.7" fill="none" opacity="0.8"/>
<path d="M578.30,636.80 V631.70 Q578.30,630.20 579.80,630.20 H580.20" stroke="#707070" stroke-width="1.3" fill="none" opacity="0.45"/>
<path d="M579.20,629.65 L580.30,630.20 L579.20,630.75z" fill="#666"/>
<path d="M578.30,636.80 V636.30 Q578.30,634.80 579.80,634.80 H580.20" stroke="#707070" stroke-width="1.3" fill="none" opacity="0.45"/>
<path d="M579.20,634.25 L580.30,634.80 L579.20,635.35z" fill="#666"/>
<path d="M578.30,636.80 V637.40 Q578.30,638.90 579.80,638.90 H580.20" stroke="#707070" stroke-width="1.3" fill="none" opacity="0.45"/>
<path d="M579.20,638.35 L580.30,638.90 L579.20,639.45z" fill="#666"/>
<path d="M578.30,636.80 V641.70 Q578.30,643.20 579.80,643.20 H580.20" stroke="#707070" stroke-width="1.3" fill="none" opacity="0.45"/>
<path d="M579.20,642.65 L580.30,643.20 L579.20,643.75z" fill="#666"/>
<circle cx="578.30" cy="636.80" r="0.75" fill="#444"/>
<path d="M654.70,123.30 Q655.90,123.30 655.90,124.80 V131.00 Q655.90,132.00 656.90,132.00 Q655.90,132.00 655.90,133.00 V139.20 Q655.90,140.70 654.70,140.70" stroke="#aaa" stroke-width="0.5" fill="none" opacity="1"/>
<path d="M614.40,175.20 Q615.60,175.20 615.60,176.70 V177.95 Q615.60,178.95 616.60,178.95 Q615.60,178.95 615.60,179.95 V181.20 Q615.60,182.70 614.40,182.70" stroke="#aaa" stroke-width="0.5" fill="none" opacity="1"/>
<path d="M603.20,307.80 Q604.40,307.80 604.40,309.30 V311.75 Q604.40,312.75 605.40,312.75 Q604.40,312.75 604.40,313.75 V316.20 Q604.40,317.70 603.20,317.70" stroke="#aaa" stroke-width="0.5" fill="none" opacity="1"/>
<path d="M642.70,312.80 V309.70 Q642.70,308.20 644.20,308.20 H646.10" stroke="#707070" stroke-width="1.3" fill="none" opacity="0.45"/>
<path d="M645.10,307.65 L646.20,308.20 L645.10,308.75z" fill="#666"/>
<path d="M642.70,312.80 H646.10" stroke="#707070" stroke-width="1.3" fill="none" opacity="0.45"/>
<path d="M642.70,312.80 V315.30 Q642.70,316.80 644.20,316.80 H646.10" stroke="#707070" stroke-width="1.3" fill="none" opacity="0.45"/>
<path d="M645.10,316.25 L646.20,316.80 L645.10,317.35z" fill="#666"/>
<path d="M634.90,382.70 Q636.10,382.70 636.10,384.20 V386.05 Q636.10,387.05 637.10,387.05 Q636.10,387.05 636.10,388.05 V389.90 Q636.10,391.40 634.90,391.40" stroke="#aaa" stroke-width="0.5" fill="none" opacity="1"/>
<path d="M616.90,576.00 Q618.10,576.00 618.10,577.50 V578.70 Q618.10,579.70 619.10,579.70 Q618.10,579.70 618.10,580.70 V581.90 Q618.10,583.40 616.90,583.40" stroke="#aaa" stroke-width="0.5" fill="none" opacity="1"/>
<path d="M514.8,302.0 C518,298 521,297.6 525,297.6" stroke="#777" stroke-width="0.7" fill="none" opacity="1"/>
<path d="M457.50,254.35 H455.00" stroke="#8a8a8a" stroke-width="0.7" fill="none" opacity="0.8"/>
<path d="M455.00,254.35 V248.70 Q455.00,247.20 453.50,247.20 H453.30" stroke="#707070" stroke-width="1.3" fill="none" opacity="0.45"/>
<path d="M454.30,246.65 L453.20,247.20 L454.30,247.75z" fill="#666"/>
<path d="M455.00,254.35 V259.70 Q455.00,261.20 453.50,261.20 H453.30" stroke="#707070" stroke-width="1.3" fill="none" opacity="0.45"/>
<path d="M454.30,260.65 L453.20,261.20 L454.30,261.75z" fill="#666"/>
<circle cx="455.00" cy="254.35" r="0.75" fill="#444"/>
<path d="M436.70,247.20 H434.50" stroke="#8a8a8a" stroke-width="0.7" fill="none" opacity="0.8"/>
<path d="M434.50,247.20 V240.50 Q434.50,239.00 433.00,239.00 H432.80" stroke="#707070" stroke-width="1.3" fill="none" opacity="0.45"/>
<path d="M433.80,238.45 L432.70,239.00 L433.80,239.55z" fill="#666"/>
<path d="M434.50,247.20 V244.70 Q434.50,243.20 433.00,243.20 H432.80" stroke="#707070" stroke-width="1.3" fill="none" opacity="0.45"/>
<path d="M433.80,242.65 L432.70,243.20 L433.80,243.75z" fill="#666"/>
<path d="M434.50,247.20 H432.80" stroke="#707070" stroke-width="1.3" fill="none" opacity="0.45"/>
<path d="M434.50,247.20 V250.00 Q434.50,251.50 433.00,251.50 H432.80" stroke="#707070" stroke-width="1.3" fill="none" opacity="0.45"/>
<path d="M433.80,250.95 L432.70,251.50 L433.80,252.05z" fill="#666"/>
<path d="M434.50,247.20 V254.70 Q434.50,256.20 433.00,256.20 H432.80" stroke="#707070" stroke-width="1.3" fill="none" opacity="0.45"/>
<path d="M433.80,255.65 L432.70,256.20 L433.80,256.75z" fill="#666"/>
<circle cx="434.50" cy="247.20" r="0.75" fill="#444"/>
<path d="M421.00,261.20 H420.50" stroke="#666" stroke-width="0.6" fill="none" opacity="1"/>
<path d="M456.80,276.35 H454.80" stroke="#8a8a8a" stroke-width="0.7" fill="none" opacity="0.8"/>
<path d="M454.80,276.35 V270.80 Q454.80,269.30 453.30,269.30 H452.80" stroke="#707070" stroke-width="1.3" fill="none" opacity="0.45"/>
<path d="M453.80,268.75 L452.70,269.30 L453.80,269.85z" fill="#666"/>
<path d="M454.80,276.35 V274.70 Q454.80,273.20 453.30,273.20 H452.80" stroke="#707070" stroke-width="1.3" fill="none" opacity="0.45"/>
<path d="M453.80,272.65 L452.70,273.20 L453.80,273.75z" fill="#666"/>
<path d="M454.80,276.35 V276.35 Q454.80,277.70 453.45,277.70 H452.80" stroke="#707070" stroke-width="1.3" fill="none" opacity="0.45"/>
<path d="M453.80,277.15 L452.70,277.70 L453.80,278.25z" fill="#666"/>
<path d="M454.80,276.35 V281.70 Q454.80,283.20 453.30,283.20 H452.80" stroke="#707070" stroke-width="1.3" fill="none" opacity="0.45"/>
<path d="M453.80,282.65 L452.70,283.20 L453.80,283.75z" fill="#666"/>
<circle cx="454.80" cy="276.35" r="0.75" fill="#444"/>
<path d="M455.00,306.00 H452.80" stroke="#8a8a8a" stroke-width="0.7" fill="none" opacity="0.8"/>
<path d="M452.80,306.00 V300.00 Q452.80,298.50 451.30,298.50 H451.30" stroke="#707070" stroke-width="1.3" fill="none" opacity="0.45"/>
<path d="M452.30,297.95 L451.20,298.50 L452.30,299.05z" fill="#666"/>
<path d="M452.80,306.00 V311.50 Q452.80,313.00 451.30,313.00 H451.30" stroke="#707070" stroke-width="1.3" fill="none" opacity="0.45"/>
<path d="M452.30,312.45 L451.20,313.00 L452.30,313.55z" fill="#666"/>
<circle cx="452.80" cy="306.00" r="0.75" fill="#444"/>
<path d="M443.20,298.50 H441.50" stroke="#8a8a8a" stroke-width="0.7" fill="none" opacity="0.8"/>
<path d="M441.50,298.50 V292.70 Q441.50,291.20 440.00,291.20 H439.80" stroke="#707070" stroke-width="1.3" fill="none" opacity="0.45"/>
<path d="M440.80,290.65 L439.70,291.20 L440.80,291.75z" fill="#666"/>
<path d="M441.50,298.50 V298.30 Q441.50,296.80 440.00,296.80 H439.80" stroke="#707070" stroke-width="1.3" fill="none" opacity="0.45"/>
<path d="M440.80,296.25 L439.70,296.80 L440.80,297.35z" fill="#666"/>
<path d="M441.50,298.50 V299.30 Q441.50,300.80 440.00,300.80 H439.80" stroke="#707070" stroke-width="1.3" fill="none" opacity="0.45"/>
<path d="M440.80,300.25 L439.70,300.80 L440.80,301.35z" fill="#666"/>
<path d="M441.50,298.50 V304.00 Q441.50,305.50 440.00,305.50 H439.80" stroke="#707070" stroke-width="1.3" fill="none" opacity="0.45"/>
<path d="M440.80,304.95 L439.70,305.50 L440.80,306.05z" fill="#666"/>
<circle cx="441.50" cy="298.50" r="0.75" fill="#444"/>
<path d="M433.00,291.20 H430.50" stroke="#666" stroke-width="0.6" fill="none" opacity="1"/>
<path d="M413.00,291.20 H410.00" stroke="#666" stroke-width="0.6" fill="none" opacity="1"/>
<path d="M430.50,296.80 H430.50" stroke="#666" stroke-width="0.6" fill="none" opacity="1"/>
<path d="M442.70,313.00 H440.50" stroke="#8a8a8a" stroke-width="0.7" fill="none" opacity="0.8"/>
<path d="M440.50,313.00 V310.70 Q440.50,309.20 439.00,309.20 H438.30" stroke="#707070" stroke-width="1.3" fill="none" opacity="0.45"/>
<path d="M439.30,308.65 L438.20,309.20 L439.30,309.75z" fill="#666"/>
<path d="M440.50,313.00 H438.30" stroke="#707070" stroke-width="1.3" fill="none" opacity="0.45"/>
<path d="M440.50,313.00 V316.30 Q440.50,317.80 439.00,317.80 H438.30" stroke="#707070" stroke-width="1.3" fill="none" opacity="0.45"/>
<path d="M439.30,317.25 L438.20,317.80 L439.30,318.35z" fill="#666"/>
<circle cx="440.50" cy="313.00" r="0.75" fill="#444"/>
<path d="M457.50,329.25 H455.50" stroke="#8a8a8a" stroke-width="0.7" fill="none" opacity="0.8"/>
<path d="M455.50,329.25 V326.30 Q455.50,324.80 454.00,324.80 H454.30" stroke="#707070" stroke-width="1.3" fill="none" opacity="0.45"/>
<path d="M455.30,324.25 L454.20,324.80 L455.30,325.35z" fill="#666"/>
<path d="M455.50,329.25 H454.30" stroke="#707070" stroke-width="1.3" fill="none" opacity="0.45"/>
<path d="M455.50,329.25 V331.00 Q455.50,332.50 454.00,332.50 H454.30" stroke="#707070" stroke-width="1.3" fill="none" opacity="0.45"/>
<path d="M455.30,331.95 L454.20,332.50 L455.30,333.05z" fill="#666"/>
<circle cx="455.50" cy="329.25" r="0.75" fill="#444"/>
<path d="M457.10,355.55 H454.80" stroke="#8a8a8a" stroke-width="0.7" fill="none" opacity="0.8"/>
<path d="M454.80,355.55 V344.00 Q454.80,342.50 453.30,342.50 H452.70" stroke="#707070" stroke-width="1.3" fill="none" opacity="0.45"/>
<path d="M453.70,341.95 L452.60,342.50 L453.70,343.05z" fill="#666"/>
<path d="M454.80,355.55 V349.80 Q454.80,348.30 453.30,348.30 H453.20" stroke="#707070" stroke-width="1.3" fill="none" opacity="0.45"/>
<path d="M454.20,347.75 L453.10,348.30 L454.20,348.85z" fill="#666"/>
<path d="M454.80,355.55 V355.55 Q454.80,356.70 453.65,356.70 H453.20" stroke="#707070" stroke-width="1.3" fill="none" opacity="0.45"/>
<path d="M454.20,356.15 L453.10,356.70 L454.20,357.25z" fill="#666"/>
<path d="M454.80,355.55 V367.40 Q454.80,368.90 453.30,368.90 H453.20" stroke="#707070" stroke-width="1.3" fill="none" opacity="0.45"/>
<path d="M454.20,368.35 L453.10,368.90 L454.20,369.45z" fill="#666"/>
<circle cx="454.80" cy="355.55" r="0.75" fill="#444"/>
<path d="M431.10,342.50 H429.50" stroke="#8a8a8a" stroke-width="0.7" fill="none" opacity="0.8"/>
<path d="M429.50,342.50 V341.70 Q429.50,340.20 428.00,340.20 H427.60" stroke="#707070" stroke-width="1.3" fill="none" opacity="0.45"/>
<path d="M428.60,339.65 L427.50,340.20 L428.60,340.75z" fill="#666"/>
<path d="M429.50,342.50 V342.80 Q429.50,344.30 428.00,344.30 H427.60" stroke="#707070" stroke-width="1.3" fill="none" opacity="0.45"/>
<path d="M428.60,343.75 L427.50,344.30 L428.60,344.85z" fill="#666"/>
<circle cx="429.50" cy="342.50" r="0.75" fill="#444"/>
<path d="M414.50,344.30 H411.50" stroke="#666" stroke-width="0.6" fill="none" opacity="1"/>
<path d="M390.00,344.30 H386.70" stroke="#666" stroke-width="0.6" fill="none" opacity="1"/>
<path d="M437.60,348.30 H434.80" stroke="#666" stroke-width="0.6" fill="none" opacity="1"/>
<path d="M429.60,356.70 H427.60" stroke="#8a8a8a" stroke-width="0.7" fill="none" opacity="0.8"/>
<path d="M427.60,356.70 V353.80 Q427.60,352.30 426.10,352.30 H425.50" stroke="#707070" stroke-width="1.3" fill="none" opacity="0.45"/>
<path d="M426.50,351.75 L425.40,352.30 L426.50,352.85z" fill="#666"/>
<path d="M427.60,356.70 H425.50" stroke="#707070" stroke-width="1.3" fill="none" opacity="0.45"/>
<path d="M427.60,356.70 V359.20 Q427.60,360.70 426.10,360.70 H425.50" stroke="#707070" stroke-width="1.3" fill="none" opacity="0.45"/>
<path d="M426.50,360.15 L425.40,360.70 L426.50,361.25z" fill="#666"/>
<circle cx="427.60" cy="356.70" r="0.75" fill="#444"/>
<path d="M429.60,368.90 H427.40" stroke="#8a8a8a" stroke-width="0.7" fill="none" opacity="0.8"/>
<path d="M427.40,368.90 V367.70 Q427.40,366.20 425.90,366.20 H425.50" stroke="#707070" stroke-width="1.3" fill="none" opacity="0.45"/>
<path d="M426.50,365.65 L425.40,366.20 L426.50,366.75z" fill="#666"/>
<path d="M427.40,368.90 V370.10 Q427.40,371.60 425.90,371.60 H425.50" stroke="#707070" stroke-width="1.3" fill="none" opacity="0.45"/>
<path d="M426.50,371.05 L425.40,371.60 L426.50,372.15z" fill="#666"/>
<circle cx="427.40" cy="368.90" r="0.75" fill="#444"/>
<path d="M392.40,350.70 Q391.20,350.70 391.20,352.20 V355.65 Q391.20,356.65 390.20,356.65 Q391.20,356.65 391.20,357.65 V361.10 Q391.20,362.60 392.40,362.60" stroke="#aaa" stroke-width="0.5" fill="none" opacity="1"/>
<path d="M475,254.3 C490,254.3 497.9,280 497.9,303" stroke="#555" stroke-width="0.8" fill="none" opacity="1"/>
<path d="M475,276.4 C488,276.4 495.5,290 495.5,302" stroke="#555" stroke-width="0.8" fill="none" opacity="1"/>
<path d="M474.6,305.4 H481.5" stroke="#888" stroke-width="0.7" fill="none" opacity="1"/>
<path d="M475,329 C488,329 495.5,318 495.5,308" stroke="#555" stroke-width="0.8" fill="none" opacity="1"/>
<path d="M475,355.8 C490,355.8 497.9,330 497.9,308" stroke="#555" stroke-width="0.8" fill="none" opacity="1"/>
<path d="M572.2,18.2 C562,24 562,35 568.2,39.1" stroke="#a8a8a8" stroke-width="0.45" fill="none" opacity="1"/>
<path d="M581.1,28.6 C592,31 598,38 592.5,40.6" stroke="#a8a8a8" stroke-width="0.45" fill="none" opacity="1"/>
<path d="M582.6,29.2 C586,31 588.5,34 588.5,36.6" stroke="#a8a8a8" stroke-width="0.45" fill="none" opacity="1"/>
<path d="M611.5,202.3 C616,200 620,197.5 624.5,195.8" stroke="#a8a8a8" stroke-width="0.45" fill="none" opacity="1"/>
<path d="M575.2,456.8 V453.3 H599.7 V456.8" stroke="#777" stroke-width="0.3" fill="none" opacity="1"/>
<path d="M560.3,459.7 V457.1 H608.5 V459.7 M591.3,457.1 V459.7" stroke="#777" stroke-width="0.3" fill="none" opacity="1"/>
<circle cx="563.50" cy="460.9" r="0.65" fill="#7a7a7a"/>
<path d="M563.45,461.6 L563.15,466.8" stroke="#808080" stroke-width="1.3" fill="none" opacity="1"/>
<path d="M563.30,462.4 L562.20,465.6 M563.50,462.4 L564.30,465.3" stroke="#999" stroke-width="0.45" fill="none" opacity="1"/>
<path d="M563.20,466.5 L562.06,469.3 L561.30,472.3 M563.20,466.5 L564.32,469.4 L564.80,472.3" stroke="#858585" stroke-width="0.75" fill="none" opacity="1"/>
<circle cx="569.90" cy="460.9" r="0.65" fill="#7a7a7a"/>
<path d="M569.85,461.6 L569.55,466.8" stroke="#808080" stroke-width="1.3" fill="none" opacity="1"/>
<path d="M569.70,462.4 L568.60,465.6 M569.90,462.4 L570.70,465.3" stroke="#999" stroke-width="0.45" fill="none" opacity="1"/>
<path d="M569.60,466.5 L569.06,469.3 L568.70,472.3 M569.60,466.5 L570.09,469.4 L570.30,472.3" stroke="#858585" stroke-width="0.75" fill="none" opacity="1"/>
<circle cx="575.80" cy="460.9" r="0.65" fill="#7a7a7a"/>
<path d="M575.75,461.6 L575.45,466.8" stroke="#808080" stroke-width="1.3" fill="none" opacity="1"/>
<path d="M575.60,462.4 L574.50,465.6 M575.80,462.4 L576.60,465.3" stroke="#999" stroke-width="0.45" fill="none" opacity="1"/>
<path d="M575.50,466.5 L575.26,469.3 L575.10,472.3 M575.50,466.5 L575.71,469.4 L575.80,472.3" stroke="#858585" stroke-width="0.75" fill="none" opacity="1"/>
<circle cx="581.30" cy="460.9" r="0.65" fill="#7a7a7a"/>
<path d="M581.25,461.6 L580.95,466.8" stroke="#808080" stroke-width="1.3" fill="none" opacity="1"/>
<path d="M581.10,462.4 L580.00,465.6 M581.30,462.4 L582.10,465.3" stroke="#999" stroke-width="0.45" fill="none" opacity="1"/>
<path d="M581.00,466.5 L580.04,469.3 L579.40,472.3 M581.00,466.5 L581.91,469.4 L582.30,472.3" stroke="#858585" stroke-width="0.75" fill="none" opacity="1"/>
<circle cx="587.80" cy="460.9" r="0.65" fill="#7a7a7a"/>
<path d="M587.75,461.6 L587.45,466.8" stroke="#808080" stroke-width="1.3" fill="none" opacity="1"/>
<path d="M587.60,462.4 L586.50,465.6 M587.80,462.4 L588.60,465.3" stroke="#999" stroke-width="0.45" fill="none" opacity="1"/>
<path d="M587.50,466.5 L586.42,469.3 L585.70,472.3 M587.50,466.5 L588.69,469.4 L589.20,472.3" stroke="#858585" stroke-width="0.75" fill="none" opacity="1"/>
<circle cx="593.90" cy="460.9" r="0.65" fill="#7a7a7a"/>
<path d="M593.85,461.6 L593.55,466.8" stroke="#808080" stroke-width="1.3" fill="none" opacity="1"/>
<path d="M593.70,462.4 L592.60,465.6 M593.90,462.4 L594.70,465.3" stroke="#999" stroke-width="0.45" fill="none" opacity="1"/>
<path d="M593.60,466.5 L593.12,469.3 L592.80,472.3 M593.60,466.5 L594.16,469.4 L594.40,472.3" stroke="#858585" stroke-width="0.75" fill="none" opacity="1"/>
<circle cx="599.50" cy="460.9" r="0.65" fill="#7a7a7a"/>
<path d="M599.45,461.6 L599.15,466.8" stroke="#808080" stroke-width="1.3" fill="none" opacity="1"/>
<path d="M599.30,462.4 L598.20,465.6 M599.50,462.4 L600.30,465.3" stroke="#999" stroke-width="0.45" fill="none" opacity="1"/>
<path d="M599.20,466.5 L599.02,469.3 L598.90,472.3 M599.20,466.5 L599.48,469.4 L599.60,472.3" stroke="#858585" stroke-width="0.75" fill="none" opacity="1"/>
<circle cx="605.60" cy="460.9" r="0.65" fill="#7a7a7a"/>
<path d="M605.55,461.6 L605.25,466.8" stroke="#808080" stroke-width="1.3" fill="none" opacity="1"/>
<path d="M605.40,462.4 L604.30,465.6 M605.60,462.4 L606.40,465.3" stroke="#999" stroke-width="0.45" fill="none" opacity="1"/>
<path d="M605.30,466.5 L604.16,469.3 L603.40,472.3 M605.30,466.5 L606.49,469.4 L607.00,472.3" stroke="#858585" stroke-width="0.75" fill="none" opacity="1"/>
<path d="M560.5,478.2 H608.5" stroke="#999" stroke-width="0.25" fill="none" opacity="1"/>
<ellipse cx="563.4" cy="478.2" rx="1.6" ry="0.8" fill="none" stroke="#666" stroke-width="0.3"/>
<ellipse cx="587.6" cy="478.2" rx="1.6" ry="0.8" fill="none" stroke="#666" stroke-width="0.3"/>
<circle cx="540.40" cy="297.60" r="0.7" fill="#444"/>
</svg>
<div id="tx" style="position:absolute;left:0;top:0;width:1050px;height:650px;will-change:transform">
<div class="u" style="left:542.00px;top:32.10px;width:17.50px;height:3.00px"></div>
<div class="t" style="left:542.50px;top:32.30px;width:28.4px;color:#525252"><div style="width:28.4px">constipação hipofonia ortostática ambientais negra rigidez motor postural rem tratamento tremor núcleo</div></div>
<div class="u" style="left:563.00px;top:16.30px;width:8.50px;height:3.00px"></div>
<div class="t" style="left:563.50px;top:16.50px;width:12.9px;color:#525252"><div style="width:12.9px">comt neurônios instabilidade gânglios lewy repouso discinesia instabilidade clínico alfa-sinucleína tremor neurológico</div></div>
<div class="u" style="left:574.50px;top:5.30px;width:28.00px;height:3.00px"></div>
<div class="t" style="left:575.00px;top:5.50px;width:46.6px;color:#525252"><div style="width:46.6px">face amantadina idade idade tratamento tremor resposta tratamento ortostática negra amantadina substância</div></div>
<div class="u" style="left:574.50px;top:14.10px;width:7.00px;height:3.00px"></div>
<div class="t" style="left:575.00px;top:14.30px;width:10.3px;color:#525252"><div style="width:10.3px">exame máscara não lewy micrografia diagnóstico face resposta depressão exame incidência dopaminérgicos</div></div>
<div class="u" style="left:584.00px;top:14.10px;width:25.50px;height:3.00px"></div>
<div class="t" style="left:584.50px;top:14.30px;width:42.2px;color:#525252"><div style="width:42.2px">marcha tratamento resposta fatores inibidores demência postural clínico anos repouso neurológico tremor</div></div>
<div class="u" style="left:613.00px;top:9.60px;width:4.50px;height:3.00px"></div>
<div class="t" style="left:613.50px;top:9.80px;width:6.0px;color:#525252"><div style="width:6.0px">fonoaudiologia mao-b pálido incidência motor alfa-sinucleína ansiedade via tratamento estriado rem motores</div></div>
<div class="u" style="left:613.00px;top:14.10px;width:6.50px;height:3.00px"></div>
<div class="t" style="left:613.50px;top:14.30px;width:9.5px;color:#525252"><div style="width:9.5px">flutuações dopaminérgicos homens flutuações bradicinesia resposta motores córtex pálido distúrbio base sintomas</div></div>
<div class="u" style="left:613.00px;top:18.40px;width:9.00px;height:3.00px"></div>
<div class="t" style="left:613.50px;top:18.60px;width:13.8px;color:#525252"><div style="width:13.8px">profunda rigidez face subtalâmico lewy carbidopa distúrbio hipofonia globo lewy substância história</div></div>
<div class="u" style="left:574.50px;top:26.60px;width:25.00px;height:3.00px"></div>
<div class="t" style="left:575.00px;top:26.80px;width:41.4px;color:#525252"><div style="width:41.4px">rigidez exame resposta ansiedade distúrbio prevalência do cerebral pálido tratamento estriado repouso</div></div>
<div class="u" style="left:602.50px;top:22.40px;width:8.00px;height:3.00px"></div>
<div class="t" style="left:603.00px;top:22.60px;width:12.1px;color:#525252"><div style="width:12.1px">instabilidade off direta homens história repouso tremor homens depressão genéticos resposta incidência</div></div>
<div class="u" style="left:602.50px;top:26.80px;width:8.00px;height:3.00px"></div>
<div class="t" style="left:603.00px;top:27.00px;width:12.1px;color:#525252"><div style="width:12.1px">base sintomas anos hipotensão história do parkinson via sono carbidopa fisioterapia festinante</div></div>
<div class="u" style="left:602.50px;top:30.90px;width:9.50px;height:3.00px"></div>
<div class="t" style="left:603.00px;top:31.10px;width:14.7px;color:#525252"><div style="width:14.7px">pálido tremor comt sintomas em flutuações ortostática ortostática pálido bradicinesia carbidopa base</div></div>
<div class="u" style="left:563.00px;top:39.60px;width:5.50px;height:3.00px"></div>
<div class="t" style="left:563.50px;top:39.80px;width:7.8px;color:#525252"><div style="width:7.8px">corpos clínico on-off máscara gânglios clínico on-off mulheres lewy sono incidência alucinações</div></div>
<div class="u" style="left:571.50px;top:35.40px;width:16.50px;height:3.00px"></div>
<div class="t" style="left:572.00px;top:35.60px;width:26.7px;color:#525252"><div style="width:26.7px">anticolinérgicos hipofonia bradicinesia agonistas hipofonia anticolinérgicos pesticidas anticolinérgicos de globo estimulação dopaminérgicos</div></div>
<div class="u" style="left:571.50px;top:39.60px;width:23.00px;height:3.00px"></div>
<div class="t" style="left:572.00px;top:39.80px;width:37.9px;color:#525252"><div style="width:37.9px">wearing sintomas doença micrografia lewy motor demência fisioterapia neurológico ansiedade em prevalência</div></div>
<div class="u" style="left:571.50px;top:43.90px;width:19.00px;height:3.00px"></div>
<div class="t" style="left:572.00px;top:44.10px;width:31.0px;color:#525252"><div style="width:31.0px">subtalâmico fonoaudiologia ambientais familiar negra estriado incidência exame ortostática ortostática corpos ortostática</div></div>
<div class="u" style="left:563.00px;top:47.80px;width:37.50px;height:3.00px"></div>
<div class="t" style="left:563.50px;top:48.00px;width:62.9px;color:#525252"><div style="width:62.9px">marcha indireta fatores corpos tremor inibidores repouso mao-b da levodopa festinante distúrbio</div></div>
<div class="u" style="left:542.00px;top:62.40px;width:25.50px;height:3.00px"></div>
<div class="t" style="left:542.50px;top:62.60px;width:42.2px;color:#525252"><div style="width:42.2px">cerebral negra marcha doença neurológico hipofonia motor postural rem fisioterapia dopamina rigidez</div></div>
<div class="u" style="left:570.50px;top:51.60px;width:21.00px;height:3.00px"></div>
<div class="t" style="left:571.00px;top:51.80px;width:34.5px;color:#525252"><div style="width:34.5px">mao-b fisioterapia alucinações hipofonia fatores motoras do profunda rem direta face festinante</div></div>
<div class="u" style="left:570.50px;top:56.40px;width:23.50px;height:3.00px"></div>
<div class="t" style="left:571.00px;top:56.60px;width:38.8px;color:#525252"><div style="width:38.8px">globo via indireta indireta depressão bradicinesia micrografia marcha distúrbio wearing indireta prevalência</div></div>
<div class="u" style="left:570.50px;top:60.30px;width:27.00px;height:3.00px"></div>
<div class="t" style="left:571.00px;top:60.50px;width:44.8px;color:#525252"><div style="width:44.8px">levodopa tálamo parkinson mao-b córtex rem micrografia prevalência diagnóstico dopamina córtex motores</div></div>
<div class="u" style="left:570.40px;top:73.00px;width:19.50px;height:3.00px"></div>
<div class="t" style="left:570.90px;top:73.20px;width:31.9px;color:#525252"><div style="width:31.9px">genéticos instabilidade homens wearing tálamo rem carbidopa sono amantadina motor diagnóstico núcleo</div></div>
<div class="u" style="left:592.60px;top:64.70px;width:32.60px;height:3.00px"></div>
<div class="t" style="left:593.10px;top:64.90px;width:54.5px;color:#525252"><div style="width:54.5px">anosmia fatores amantadina fisioterapia inibidores discinesia corpos anticolinérgicos da tálamo pálido sono</div></div>
<div class="u" style="left:592.60px;top:70.65px;width:30.00px;height:5.10px"></div>
<div class="t" style="left:593.10px;top:70.85px;width:50.0px;color:#525252"><div style="width:50.0px">dopamina dopamina on-off direta wearing inibidores prevalência profunda do base do rem</div><div style="width:17.8px">marcha anticolinérgicos direta da distúrbio mao-b indireta fonoaudiologia fisioterapia doença indireta ambientais</div></div>
<div class="u" style="left:626.10px;top:72.30px;width:6.40px;height:3.00px"></div>
<div class="t" style="left:626.60px;top:72.50px;width:9.3px;color:#525252"><div style="width:9.3px">do genéticos bradicinesia pesticidas face hipotensão anos da indireta agonistas gânglios fatores</div></div>
<div class="u" style="left:635.70px;top:68.80px;width:19.50px;height:3.00px"></div>
<div class="t" style="left:636.20px;top:69.00px;width:31.9px;color:#525252"><div style="width:31.9px">anosmia instabilidade ortostática via corpos bradicinesia levodopa carbidopa em dopamina hipofonia estimulação</div></div>
<div class="u" style="left:635.70px;top:73.00px;width:31.50px;height:3.00px"></div>
<div class="t" style="left:636.20px;top:73.20px;width:52.6px;color:#525252"><div style="width:52.6px">via ambientais micrografia fisioterapia cerebral direta pesticidas do hipofonia clínico clínico em</div></div>
<div class="u" style="left:592.60px;top:81.60px;width:24.00px;height:3.00px"></div>
<div class="t" style="left:593.10px;top:81.80px;width:39.7px;color:#525252"><div style="width:39.7px">parkinson de ambientais marcha córtex máscara gânglios inibidores comt dopamina motoras comt</div></div>
<div class="u" style="left:620.50px;top:77.40px;width:26.00px;height:3.00px"></div>
<div class="t" style="left:621.00px;top:77.60px;width:43.1px;color:#525252"><div style="width:43.1px">não núcleo discinesia estimulação constipação wearing diagnóstico lewy em tremor sono estriado</div></div>
<div class="u" style="left:620.50px;top:81.50px;width:14.00px;height:3.00px"></div>
<div class="t" style="left:621.00px;top:81.70px;width:22.4px;color:#525252"><div style="width:22.4px">pesticidas tratamento tálamo lewy núcleo em motor hipofonia córtex subtalâmico parkinson da</div></div>
<div class="u" style="left:620.50px;top:85.70px;width:16.50px;height:3.00px"></div>
<div class="t" style="left:621.00px;top:85.90px;width:26.7px;color:#525252"><div style="width:26.7px">dopaminérgicos profunda doença hipofonia agonistas micrografia direta fonoaudiologia face exame tremor constipação</div></div>
<div class="u" style="left:541.90px;top:108.00px;width:16.50px;height:3.00px"></div>
<div class="t" style="left:542.40px;top:108.20px;width:26.7px;color:#525252"><div style="width:26.7px">incidência tálamo córtex exame indireta marcha exame tremor flutuações inibidores on-off substância</div></div>
<div class="u" style="left:561.50px;top:92.80px;width:10.50px;height:3.00px"></div>
<div class="t" style="left:562.00px;top:93.00px;width:16.4px;color:#525252"><div style="width:16.4px">postural núcleo base exame dopamina repouso da constipação fisioterapia núcleo profunda subtalâmico</div></div>
<div class="u" style="left:574.10px;top:89.80px;width:19.00px;height:3.00px"></div>
<div class="t" style="left:574.60px;top:90.00px;width:31.0px;color:#525252"><div style="width:31.0px">da prevalência on-off base subtalâmico motor indireta núcleo flutuações homens tálamo wearing</div></div>
<div class="u" style="left:574.10px;top:95.05px;width:27.50px;height:5.10px"></div>
<div class="t" style="left:574.60px;top:95.25px;width:45.7px;color:#525252"><div style="width:45.7px">exame da base máscara lewy face ortostática da ansiedade rigidez história discinesia</div><div style="width:27.4px">comt história motores face hipofonia anos genéticos pesticidas rem micrografia motoras máscara</div></div>
<div class="u" style="left:605.00px;top:94.00px;width:9.00px;height:3.00px"></div>
<div class="t" style="left:605.50px;top:94.20px;width:13.8px;color:#525252"><div style="width:13.8px">via amantadina postural ortostática globo levodopa história amantadina levodopa mulheres gânglios subtalâmico</div></div>
<div class="u" style="left:605.00px;top:98.50px;width:16.50px;height:3.00px"></div>
<div class="t" style="left:605.50px;top:98.70px;width:26.7px;color:#525252"><div style="width:26.7px">corpos distúrbio lewy da sono ansiedade instabilidade rem parkinson distúrbio clínico estriado</div></div>
<div class="u" style="left:561.50px;top:105.90px;width:8.60px;height:3.00px"></div>
<div class="t" style="left:562.00px;top:106.10px;width:13.1px;color:#525252"><div style="width:13.1px">da mulheres parkinson hipotensão anosmia tálamo fonoaudiologia não subtalâmico repouso festinante anticolinérgicos</div></div>
<div class="u" style="left:573.50px;top:102.40px;width:18.30px;height:3.00px"></div>
<div class="t" style="left:574.00px;top:102.60px;width:29.8px;color:#525252"><div style="width:29.8px">marcha bradicinesia wearing off substância dopaminérgicos off em alfa-sinucleína familiar wearing corpos</div></div>
<div class="u" style="left:573.50px;top:107.45px;width:34.00px;height:5.10px"></div>
<div class="t" style="left:574.00px;top:107.65px;width:56.9px;color:#525252"><div style="width:56.9px">hipofonia motor subtalâmico resposta pálido homens constipação instabilidade on-off tremor prevalência dopaminérgicos</div><div style="width:34.0px">rigidez off parkinson fatores instabilidade wearing bradicinesia profunda amantadina repouso wearing face</div></div>
<div class="u" style="left:611.20px;top:106.80px;width:11.50px;height:3.00px"></div>
<div class="t" style="left:611.70px;top:107.00px;width:18.1px;color:#525252"><div style="width:18.1px">estriado de distúrbio clínico lewy off fonoaudiologia em substância córtex mulheres discinesia</div></div>
<div class="u" style="left:611.20px;top:110.90px;width:15.30px;height:3.00px"></div>
<div class="t" style="left:611.70px;top:111.10px;width:24.7px;color:#525252"><div style="width:24.7px">festinante levodopa wearing negra dopaminérgicos da depressão idade depressão córtex mao-b não</div></div>
<div class="u" style="left:561.50px;top:123.20px;width:8.60px;height:3.00px"></div>
<div class="t" style="left:562.00px;top:123.40px;width:13.1px;color:#525252"><div style="width:13.1px">base núcleo familiar agonistas off do parkinson motoras neurônios de parkinson núcleo</div></div>
<div class="u" style="left:573.50px;top:115.40px;width:32.00px;height:3.00px"></div>
<div class="t" style="left:574.00px;top:115.60px;width:53.4px;color:#525252"><div style="width:53.4px">clínico inibidores subtalâmico direta flutuações base marcha pesticidas ambientais gânglios pesticidas pálido</div></div>
<div class="u" style="left:573.50px;top:119.50px;width:17.70px;height:3.00px"></div>
<div class="t" style="left:574.00px;top:119.70px;width:28.8px;color:#525252"><div style="width:28.8px">diagnóstico ortostática núcleo depressão prevalência comt anticolinérgicos distúrbio da mulheres fatores máscara</div></div>
<div class="u" style="left:573.50px;top:130.70px;width:32.00px;height:3.00px"></div>
<div class="t" style="left:574.00px;top:130.90px;width:53.4px;color:#525252"><div style="width:53.4px">corpos do negra em de rigidez idade motoras gânglios levodopa tremor bradicinesia</div></div>
<div class="u" style="left:609.40px;top:123.05px;width:34.00px;height:5.10px"></div>
<div class="t" style="left:609.90px;top:123.25px;width:56.9px;color:#525252"><div style="width:56.9px">história alucinações núcleo história sintomas cerebral flutuações prevalência não substância estriado dopaminérgicos</div><div style="width:23.3px">base doença wearing rem anosmia clínico constipação flutuações neurônios depressão comt sono</div></div>
<div class="u" style="left:609.40px;top:130.90px;width:12.70px;height:3.00px"></div>
<div class="t" style="left:609.90px;top:131.10px;width:20.2px;color:#525252"><div style="width:20.2px">dopaminérgicos doença anosmia alucinações bradicinesia direta on-off núcleo ambientais da flutuações núcleo</div></div>
<div class="u" style="left:625.50px;top:129.25px;width:28.80px;height:5.10px"></div>
<div class="t" style="left:626.00px;top:129.45px;width:47.9px;color:#525252"><div style="width:47.9px">doença instabilidade wearing instabilidade micrografia corpos estimulação substância ortostática parkinson motores motores</div><div style="width:35.5px">bradicinesia tratamento córtex hipofonia pesticidas anos cerebral hipotensão constipação pálido hipofonia sintomas</div></div>
<div class="u" style="left:609.40px;top:135.45px;width:30.70px;height:5.10px"></div>
<div class="t" style="left:609.90px;top:135.65px;width:51.2px;color:#525252"><div style="width:51.2px">fonoaudiologia genéticos micrografia substância anos subtalâmico idade alfa-sinucleína homens núcleo máscara córtex</div><div style="width:42.3px">neurológico parkinson incidência tratamento anos incidência prevalência genéticos anticolinérgicos bradicinesia dopamina substância</div></div>
<div class="u" style="left:541.20px;top:315.00px;width:14.60px;height:3.00px"></div>
<div class="t" style="left:541.70px;top:315.20px;width:23.4px;color:#525252"><div style="width:23.4px">máscara fatores rem marcha alucinações base exame negra idade parkinson idade motor</div></div>
<div class="u" style="left:558.00px;top:165.10px;width:7.80px;height:3.00px"></div>
<div class="t" style="left:558.50px;top:165.30px;width:11.7px;color:#525252"><div style="width:11.7px">incidência flutuações globo wearing doença estriado repouso núcleo motor instabilidade pesticidas córtex</div></div>
<div class="u" style="left:567.90px;top:151.80px;width:11.50px;height:3.00px"></div>
<div class="t" style="left:568.40px;top:152.00px;width:18.1px;color:#525252"><div style="width:18.1px">repouso direta motoras rigidez wearing discinesia mao-b anticolinérgicos ambientais estriado pálido alucinações</div></div>
<div class="u" style="left:582.50px;top:142.50px;width:18.00px;height:3.00px"></div>
<div class="t" style="left:583.00px;top:142.70px;width:29.3px;color:#525252"><div style="width:29.3px">rigidez indireta incidência sintomas substância fisioterapia idade genéticos da rigidez cerebral micrografia</div></div>
<div class="u" style="left:582.50px;top:146.50px;width:23.00px;height:3.00px"></div>
<div class="t" style="left:583.00px;top:146.70px;width:37.9px;color:#525252"><div style="width:37.9px">anosmia motoras ambientais prevalência motores fonoaudiologia neurológico máscara de indireta tremor globo</div></div>
<div class="u" style="left:582.50px;top:152.90px;width:11.80px;height:3.00px"></div>
<div class="t" style="left:583.00px;top:153.10px;width:18.6px;color:#525252"><div style="width:18.6px">off familiar postural prevalência comt familiar globo não mulheres tálamo sintomas via</div></div>
<div class="u" style="left:596.40px;top:150.60px;width:25.00px;height:3.00px"></div>
<div class="t" style="left:596.90px;top:150.80px;width:41.4px;color:#525252"><div style="width:41.4px">via via face clínico da depressão bradicinesia direta parkinson não estriado rigidez</div></div>
<div class="u" style="left:596.40px;top:154.90px;width:11.50px;height:3.00px"></div>
<div class="t" style="left:596.90px;top:155.10px;width:18.1px;color:#525252"><div style="width:18.1px">núcleo base off hipotensão mao-b mao-b rigidez tratamento instabilidade micrografia córtex wearing</div></div>
<div class="u" style="left:582.50px;top:161.10px;width:10.00px;height:3.00px"></div>
<div class="t" style="left:583.00px;top:161.30px;width:15.5px;color:#525252"><div style="width:15.5px">rem em profunda idade subtalâmico on-off festinante mulheres rem anticolinérgicos pálido globo</div></div>
<div class="u" style="left:595.70px;top:158.90px;width:25.20px;height:3.00px"></div>
<div class="t" style="left:596.20px;top:159.10px;width:41.7px;color:#525252"><div style="width:41.7px">ortostática dopamina levodopa doença globo incidência base corpos motores micrografia lewy do</div></div>
<div class="u" style="left:595.70px;top:163.60px;width:15.30px;height:3.00px"></div>
<div class="t" style="left:596.20px;top:163.80px;width:24.7px;color:#525252"><div style="width:24.7px">alucinações ansiedade face anosmia doença constipação distúrbio ortostática face da anos de</div></div>
<div class="u" style="left:567.90px;top:170.00px;width:13.40px;height:3.00px"></div>
<div class="t" style="left:568.40px;top:170.20px;width:21.4px;color:#525252"><div style="width:21.4px">não motoras demência repouso ortostática hipotensão estimulação rigidez rem alfa-sinucleína on-off negra</div></div>
<div class="u" style="left:584.00px;top:167.30px;width:23.30px;height:3.00px"></div>
<div class="t" style="left:584.50px;top:167.50px;width:38.4px;color:#525252"><div style="width:38.4px">on-off marcha negra pesticidas sintomas fatores hipofonia flutuações off gânglios subtalâmico ansiedade</div></div>
<div class="u" style="left:584.00px;top:171.90px;width:23.30px;height:3.00px"></div>
<div class="t" style="left:584.50px;top:172.10px;width:38.4px;color:#525252"><div style="width:38.4px">inibidores demência alfa-sinucleína dopamina idade corpos clínico clínico mao-b bradicinesia negra de</div></div>
<div class="u" style="left:567.90px;top:178.40px;width:23.30px;height:3.00px"></div>
<div class="t" style="left:568.40px;top:178.60px;width:38.4px;color:#525252"><div style="width:38.4px">base fisioterapia máscara genéticos sintomas globo negra clínico em carbidopa direta lewy</div></div>
<div class="u" style="left:593.90px;top:175.90px;width:17.00px;height:3.00px"></div>
<div class="t" style="left:594.40px;top:176.10px;width:27.6px;color:#525252"><div style="width:27.6px">distúrbio sintomas motores motoras ambientais wearing corpos ambientais discinesia motores indireta exame</div></div>
<div class="u" style="left:593.90px;top:180.50px;width:19.60px;height:3.00px"></div>
<div class="t" style="left:594.40px;top:180.70px;width:32.1px;color:#525252"><div style="width:32.1px">história ortostática face carbidopa genéticos levodopa rigidez mao-b núcleo pálido clínico amantadina</div></div>
<div class="u" style="left:558.00px;top:193.30px;width:12.70px;height:3.00px"></div>
<div class="t" style="left:558.50px;top:193.50px;width:20.2px;color:#525252"><div style="width:20.2px">base anosmia base alfa-sinucleína máscara clínico inibidores flutuações instabilidade agonistas distúrbio exame</div></div>
<div class="u" style="left:573.50px;top:184.20px;width:21.40px;height:3.00px"></div>
<div class="t" style="left:574.00px;top:184.40px;width:35.2px;color:#525252"><div style="width:35.2px">instabilidade ansiedade discinesia demência wearing neurológico da parkinson de hipotensão de córtex</div></div>
<div class="u" style="left:573.50px;top:188.25px;width:30.70px;height:5.10px"></div>
<div class="t" style="left:574.00px;top:188.45px;width:51.2px;color:#525252"><div style="width:51.2px">mao-b alucinações off distúrbio tremor pálido on-off resposta rem em incidência núcleo</div><div style="width:34.3px">comt instabilidade off flutuações hipotensão corpos genéticos base gânglios depressão parkinson em</div></div>
<div class="u" style="left:573.50px;top:201.60px;width:18.90px;height:3.00px"></div>
<div class="t" style="left:574.00px;top:201.80px;width:30.9px;color:#525252"><div style="width:30.9px">neurônios alfa-sinucleína mulheres direta estimulação globo doença rigidez ortostática córtex via base</div></div>
<div class="u" style="left:595.70px;top:194.80px;width:27.70px;height:3.00px"></div>
<div class="t" style="left:596.20px;top:195.00px;width:46.0px;color:#525252"><div style="width:46.0px">flutuações marcha amantadina hipofonia hipofonia tálamo incidência marcha homens genéticos estriado bradicinesia</div></div>
<div class="u" style="left:595.70px;top:199.10px;width:12.20px;height:3.00px"></div>
<div class="t" style="left:596.20px;top:199.30px;width:19.3px;color:#525252"><div style="width:19.3px">clínico substância doença em anticolinérgicos neurológico neurônios genéticos anos motores em idade</div></div>
<div class="u" style="left:595.70px;top:203.40px;width:37.60px;height:3.00px"></div>
<div class="t" style="left:596.20px;top:203.60px;width:63.1px;color:#525252"><div style="width:63.1px">motoras córtex fatores gânglios homens festinante postural rigidez motores córtex tratamento inibidores</div></div>
<div class="u" style="left:595.70px;top:208.10px;width:22.10px;height:3.00px"></div>
<div class="t" style="left:596.20px;top:208.30px;width:36.4px;color:#525252"><div style="width:36.4px">hipotensão wearing amantadina cerebral doença de motor motores estriado on-off ansiedade genéticos</div></div>
<div class="u" style="left:558.00px;top:242.50px;width:14.60px;height:3.00px"></div>
<div class="t" style="left:558.50px;top:242.70px;width:23.4px;color:#525252"><div style="width:23.4px">flutuações direta córtex discinesia clínico flutuações dopamina de mulheres ambientais depressão tremor</div></div>
<div class="u" style="left:575.30px;top:212.10px;width:17.10px;height:3.00px"></div>
<div class="t" style="left:575.80px;top:212.30px;width:27.8px;color:#525252"><div style="width:27.8px">parkinson inibidores pálido familiar genéticos lewy bradicinesia motoras anticolinérgicos história alfa-sinucleína demência</div></div>
<div class="u" style="left:575.30px;top:216.50px;width:33.20px;height:3.00px"></div>
<div class="t" style="left:575.80px;top:216.70px;width:55.5px;color:#525252"><div style="width:55.5px">anticolinérgicos pálido neurônios homens distúrbio anos lewy rem incidência ortostática da doença</div></div>
<div class="u" style="left:575.30px;top:226.40px;width:33.20px;height:3.00px"></div>
<div class="t" style="left:575.80px;top:226.60px;width:55.5px;color:#525252"><div style="width:55.5px">não núcleo repouso mao-b pálido da depressão inibidores anticolinérgicos via amantadina wearing</div></div>
<div class="u" style="left:611.20px;top:220.05px;width:32.00px;height:5.10px"></div>
<div class="t" style="left:611.70px;top:220.25px;width:53.4px;color:#525252"><div style="width:53.4px">não marcha fonoaudiologia pálido fisioterapia dopaminérgicos amantadina globo lewy história tremor cerebral</div><div style="width:21.5px">ortostática negra comt dopamina cerebral micrografia lewy negra mulheres tremor dopaminérgicos ortostática</div></div>
<div class="u" style="left:611.20px;top:226.40px;width:30.70px;height:3.00px"></div>
<div class="t" style="left:611.70px;top:226.60px;width:51.2px;color:#525252"><div style="width:51.2px">base anos ansiedade festinante bradicinesia carbidopa anosmia inibidores dopaminérgicos ambientais córtex via</div></div>
<div class="u" style="left:611.20px;top:230.70px;width:47.40px;height:3.00px"></div>
<div class="t" style="left:611.70px;top:230.90px;width:80.0px;color:#525252"><div style="width:80.0px">neurônios depressão história alucinações demência anosmia da carbidopa marcha doença bradicinesia on-off</div></div>
<div class="u" style="left:575.30px;top:247.40px;width:22.70px;height:3.00px"></div>
<div class="t" style="left:575.80px;top:247.60px;width:37.4px;color:#525252"><div style="width:37.4px">bradicinesia do lewy face exame mao-b alucinações sono depressão gânglios instabilidade negra</div></div>
<div class="u" style="left:601.30px;top:235.10px;width:27.00px;height:3.00px"></div>
<div class="t" style="left:601.80px;top:235.30px;width:44.8px;color:#525252"><div style="width:44.8px">mulheres direta da demência diagnóstico base inibidores constipação rem direta dopamina idade</div></div>
<div class="u" style="left:601.30px;top:239.05px;width:29.50px;height:5.10px"></div>
<div class="t" style="left:601.80px;top:239.25px;width:49.1px;color:#525252"><div style="width:49.1px">de flutuações idade corpos substância alucinações neurônios via repouso tremor motoras inibidores</div><div style="width:40.4px">profunda distúrbio rem off anosmia fisioterapia substância wearing anos prevalência ansiedade on-off</div></div>
<div class="u" style="left:601.30px;top:245.30px;width:19.00px;height:3.00px"></div>
<div class="t" style="left:601.80px;top:245.50px;width:31.0px;color:#525252"><div style="width:31.0px">motores doença cerebral fatores repouso dopamina anticolinérgicos marcha direta anos via hipotensão</div></div>
<div class="u" style="left:601.30px;top:251.80px;width:29.00px;height:3.00px"></div>
<div class="t" style="left:601.80px;top:252.00px;width:48.3px;color:#525252"><div style="width:48.3px">motoras gânglios pálido em pálido dopaminérgicos de motores prevalência hipofonia profunda discinesia</div></div>
<div class="u" style="left:633.30px;top:249.70px;width:19.20px;height:3.00px"></div>
<div class="t" style="left:633.80px;top:249.90px;width:31.4px;color:#525252"><div style="width:31.4px">constipação ansiedade estriado rem cerebral bradicinesia subtalâmico da ortostática levodopa flutuações de</div></div>
<div class="u" style="left:633.30px;top:253.90px;width:24.10px;height:3.00px"></div>
<div class="t" style="left:633.80px;top:254.10px;width:39.8px;color:#525252"><div style="width:39.8px">repouso ambientais neurônios indireta clínico diagnóstico constipação levodopa alfa-sinucleína marcha rigidez wearing</div></div>
<div class="u" style="left:601.30px;top:257.65px;width:27.00px;height:5.10px"></div>
<div class="t" style="left:601.80px;top:257.85px;width:44.8px;color:#525252"><div style="width:44.8px">fonoaudiologia bradicinesia mao-b postural lewy pálido mulheres base agonistas anticolinérgicos máscara lewy</div><div style="width:27.9px">familiar discinesia motor história face não não on-off neurológico off demência motoras</div></div>
<div class="u" style="left:631.00px;top:259.30px;width:29.30px;height:3.00px"></div>
<div class="t" style="left:631.50px;top:259.50px;width:48.8px;color:#525252"><div style="width:48.8px">wearing da da flutuações dopaminérgicos flutuações discinesia hipofonia sintomas tratamento inibidores constipação</div></div>
<div class="u" style="left:575.30px;top:272.80px;width:17.10px;height:3.00px"></div>
<div class="t" style="left:575.80px;top:273.00px;width:27.8px;color:#525252"><div style="width:27.8px">repouso ortostática motoras flutuações núcleo córtex anticolinérgicos ambientais postural ambientais via neurônios</div></div>
<div class="u" style="left:595.70px;top:264.50px;width:23.90px;height:3.00px"></div>
<div class="t" style="left:596.20px;top:264.70px;width:39.5px;color:#525252"><div style="width:39.5px">marcha doença direta anticolinérgicos base demência substância não anticolinérgicos face negra inibidores</div></div>
<div class="u" style="left:595.70px;top:268.70px;width:10.30px;height:3.00px"></div>
<div class="t" style="left:596.20px;top:268.90px;width:16.0px;color:#525252"><div style="width:16.0px">cerebral tratamento inibidores rigidez demência subtalâmico agonistas base profunda wearing história doença</div></div>
<div class="u" style="left:609.40px;top:268.70px;width:9.60px;height:3.00px"></div>
<div class="t" style="left:609.90px;top:268.90px;width:14.8px;color:#525252"><div style="width:14.8px">marcha fatores cerebral mulheres fonoaudiologia do comt neurônios demência distúrbio micrografia substância</div></div>
<div class="u" style="left:595.70px;top:274.90px;width:27.70px;height:3.00px"></div>
<div class="t" style="left:596.20px;top:275.10px;width:46.0px;color:#525252"><div style="width:46.0px">mao-b motoras neurônios cerebral ambientais mao-b de constipação de familiar demência dopaminérgicos</div></div>
<div class="u" style="left:626.30px;top:272.60px;width:22.40px;height:3.00px"></div>
<div class="t" style="left:626.80px;top:272.80px;width:36.9px;color:#525252"><div style="width:36.9px">fonoaudiologia depressão rigidez mao-b neurônios pálido clínico indireta repouso de postural ortostática</div></div>
<div class="u" style="left:626.30px;top:277.10px;width:9.40px;height:3.00px"></div>
<div class="t" style="left:626.80px;top:277.30px;width:14.5px;color:#525252"><div style="width:14.5px">pesticidas clínico hipofonia fatores motor instabilidade ambientais levodopa ortostática homens off de</div></div>
<div class="u" style="left:595.70px;top:281.50px;width:23.90px;height:3.00px"></div>
<div class="t" style="left:596.20px;top:281.70px;width:39.5px;color:#525252"><div style="width:39.5px">sintomas história depressão lewy negra depressão neurológico sono lewy lewy parkinson rem</div></div>
<div class="u" style="left:557.90px;top:300.30px;width:10.30px;height:3.00px"></div>
<div class="t" style="left:558.40px;top:300.50px;width:16.0px;color:#525252"><div style="width:16.0px">genéticos da ortostática corpos mao-b doença gânglios levodopa alfa-sinucleína festinante instabilidade corpos</div></div>
<div class="u" style="left:572.10px;top:285.65px;width:30.70px;height:5.10px"></div>
<div class="t" style="left:572.60px;top:285.85px;width:51.2px;color:#525252"><div style="width:51.2px">resposta rem estriado levodopa em de negra clínico micrografia genéticos ortostática instabilidade</div><div style="width:35.9px">demência núcleo carbidopa micrografia do sintomas levodopa tálamo carbidopa repouso marcha hipotensão</div></div>
<div class="u" style="left:572.10px;top:298.50px;width:19.60px;height:3.00px"></div>
<div class="t" style="left:572.60px;top:298.70px;width:32.1px;color:#525252"><div style="width:32.1px">globo da motores em substância indireta ansiedade negra profunda fatores hipotensão instabilidade</div></div>
<div class="u" style="left:595.00px;top:291.65px;width:33.20px;height:5.10px"></div>
<div class="t" style="left:595.50px;top:291.85px;width:55.5px;color:#525252"><div style="width:55.5px">anos fonoaudiologia prevalência levodopa fatores amantadina fonoaudiologia corpos fisioterapia da direta dopaminérgicos</div><div style="width:38.6px">substância corpos tálamo levodopa hipotensão sono face hipofonia flutuações inibidores substância exame</div></div>
<div class="u" style="left:628.50px;top:293.30px;width:30.20px;height:3.00px"></div>
<div class="t" style="left:629.00px;top:293.50px;width:50.3px;color:#525252"><div style="width:50.3px">familiar neurônios história constipação face hipotensão cerebral estriado clínico idade depressão ambientais</div></div>
<div class="u" style="left:595.00px;top:298.50px;width:31.40px;height:3.00px"></div>
<div class="t" style="left:595.50px;top:298.70px;width:52.4px;color:#525252"><div style="width:52.4px">lewy depressão tratamento flutuações alfa-sinucleína hipotensão pesticidas demência base núcleo da agonistas</div></div>
<div class="u" style="left:627.20px;top:298.50px;width:16.50px;height:3.00px"></div>
<div class="t" style="left:627.70px;top:298.70px;width:26.7px;color:#525252"><div style="width:26.7px">parkinson doença fonoaudiologia globo via discinesia base fonoaudiologia estriado agonistas direta corpos</div></div>
<div class="u" style="left:595.00px;top:303.60px;width:32.60px;height:3.00px"></div>
<div class="t" style="left:595.50px;top:303.80px;width:54.5px;color:#525252"><div style="width:54.5px">marcha repouso em sono gânglios rem instabilidade da núcleo subtalâmico pesticidas substância</div></div>
<div class="u" style="left:631.50px;top:301.95px;width:30.30px;height:5.10px"></div>
<div class="t" style="left:632.00px;top:302.15px;width:50.5px;color:#525252"><div style="width:50.5px">substância fatores em bradicinesia ansiedade subtalâmico bradicinesia negra núcleo alucinações ambientais máscara</div><div style="width:16.1px">repouso fisioterapia prevalência festinante inibidores em globo sintomas carbidopa incidência amantadina repouso</div></div>
<div class="u" style="left:572.10px;top:308.40px;width:22.10px;height:3.00px"></div>
<div class="t" style="left:572.60px;top:308.60px;width:36.4px;color:#525252"><div style="width:36.4px">do fisioterapia motoras levodopa constipação fisioterapia on-off estriado micrografia motoras núcleo indireta</div></div>
<div class="u" style="left:572.10px;top:312.25px;width:29.50px;height:5.10px"></div>
<div class="t" style="left:572.60px;top:312.45px;width:49.1px;color:#525252"><div style="width:49.1px">mao-b estimulação wearing fisioterapia núcleo discinesia ansiedade demência neurônios da dopaminérgicos corpos</div><div style="width:20.3px">on-off familiar constipação alucinações carbidopa wearing festinante córtex negra fatores rem base</div></div>
<div class="u" style="left:557.90px;top:328.00px;width:12.70px;height:3.00px"></div>
<div class="t" style="left:558.40px;top:328.20px;width:20.2px;color:#525252"><div style="width:20.2px">exame tálamo tratamento prevalência marcha motoras motor idade ortostática demência wearing alucinações</div></div>
<div class="u" style="left:573.40px;top:320.50px;width:31.90px;height:3.00px"></div>
<div class="t" style="left:573.90px;top:320.70px;width:53.3px;color:#525252"><div style="width:53.3px">demência resposta micrografia rem anosmia bradicinesia da anticolinérgicos agonistas fisioterapia negra não</div></div>
<div class="u" style="left:573.40px;top:324.20px;width:23.20px;height:3.00px"></div>
<div class="t" style="left:573.90px;top:324.40px;width:38.3px;color:#525252"><div style="width:38.3px">tálamo motoras depressão fatores tratamento pesticidas ansiedade doença neurônios amantadina hipofonia não</div></div>
<div class="u" style="left:600.00px;top:324.20px;width:13.40px;height:3.00px"></div>
<div class="t" style="left:600.50px;top:324.40px;width:21.4px;color:#525252"><div style="width:21.4px">fisioterapia idade gânglios lewy subtalâmico rem negra em globo anticolinérgicos fisioterapia ambientais</div></div>
<div class="u" style="left:573.40px;top:328.60px;width:23.90px;height:3.00px"></div>
<div class="t" style="left:573.90px;top:328.80px;width:39.5px;color:#525252"><div style="width:39.5px">substância parkinson negra doença neurológico sono motores marcha tálamo sono motor amantadina</div></div>
<div class="u" style="left:600.00px;top:328.60px;width:12.70px;height:3.00px"></div>
<div class="t" style="left:600.50px;top:328.80px;width:20.2px;color:#525252"><div style="width:20.2px">de tratamento motores estimulação máscara mao-b rem fonoaudiologia direta levodopa máscara de</div></div>
<div class="u" style="left:573.40px;top:335.40px;width:27.60px;height:3.00px"></div>
<div class="t" style="left:573.90px;top:335.60px;width:45.9px;color:#525252"><div style="width:45.9px">flutuações mulheres hipofonia base postural repouso fatores micrografia história off corpos wearing</div></div>
<div class="u" style="left:603.40px;top:332.90px;width:8.70px;height:3.00px"></div>
<div class="t" style="left:603.90px;top:333.10px;width:13.3px;color:#525252"><div style="width:13.3px">de tremor genéticos exame do cerebral genéticos tratamento da profunda tálamo pálido</div></div>
<div class="u" style="left:603.40px;top:336.65px;width:34.90px;height:5.10px"></div>
<div class="t" style="left:603.90px;top:336.85px;width:58.4px;color:#525252"><div style="width:58.4px">flutuações carbidopa doença substância tremor motor dopamina corpos dopaminérgicos discinesia levodopa tremor</div><div style="width:54.8px">marcha de fisioterapia clínico pesticidas da micrografia de da tálamo profunda genéticos</div></div>
<div class="u" style="left:558.00px;top:364.50px;width:10.30px;height:3.00px"></div>
<div class="t" style="left:558.50px;top:364.70px;width:16.0px;color:#525252"><div style="width:16.0px">núcleo genéticos genéticos lewy fisioterapia agonistas subtalâmico depressão repouso motores idade negra</div></div>
<div class="u" style="left:571.60px;top:343.40px;width:10.30px;height:3.00px"></div>
<div class="t" style="left:572.10px;top:343.60px;width:16.0px;color:#525252"><div style="width:16.0px">indireta anos motor doença alucinações gânglios via bradicinesia ambientais base agonistas amantadina</div></div>
<div class="u" style="left:571.60px;top:346.95px;width:31.30px;height:5.10px"></div>
<div class="t" style="left:572.10px;top:347.15px;width:52.2px;color:#525252"><div style="width:52.2px">marcha wearing anticolinérgicos genéticos neurônios face anosmia prevalência wearing anos negra off</div><div style="width:38.9px">familiar gânglios incidência tálamo wearing não genéticos comt bradicinesia núcleo de carbidopa</div></div>
<div class="u" style="left:571.60px;top:355.80px;width:27.60px;height:3.00px"></div>
<div class="t" style="left:572.10px;top:356.00px;width:45.9px;color:#525252"><div style="width:45.9px">wearing discinesia da levodopa constipação inibidores hipotensão anosmia cerebral discinesia alucinações idade</div></div>
<div class="u" style="left:601.50px;top:353.70px;width:7.00px;height:3.00px"></div>
<div class="t" style="left:602.00px;top:353.90px;width:10.3px;color:#525252"><div style="width:10.3px">prevalência história motor direta direta córtex homens doença dopamina gânglios anticolinérgicos resposta</div></div>
<div class="u" style="left:601.50px;top:357.90px;width:8.90px;height:3.00px"></div>
<div class="t" style="left:602.00px;top:358.10px;width:13.6px;color:#525252"><div style="width:13.6px">depressão comt ortostática fonoaudiologia tratamento rigidez neurológico carbidopa micrografia neurônios dopamina festinante</div></div>
<div class="u" style="left:571.60px;top:371.50px;width:33.80px;height:3.00px"></div>
<div class="t" style="left:572.10px;top:371.70px;width:56.6px;color:#525252"><div style="width:56.6px">marcha fonoaudiologia levodopa do micrografia homens dopamina dopamina substância máscara prevalência genéticos</div></div>
<div class="u" style="left:608.50px;top:361.75px;width:29.70px;height:5.10px"></div>
<div class="t" style="left:609.00px;top:361.95px;width:49.5px;color:#525252"><div style="width:49.5px">fatores substância homens repouso substância repouso estimulação rem da motor história repouso</div><div style="width:45.3px">anos hipotensão marcha flutuações mao-b mao-b festinante neurônios neurônios fatores instabilidade idade</div></div>
<div class="u" style="left:641.60px;top:361.75px;width:33.80px;height:5.10px"></div>
<div class="t" style="left:642.10px;top:361.95px;width:56.6px;color:#525252"><div style="width:56.6px">idade sintomas indireta postural em postural genéticos mao-b não ansiedade distúrbio alfa-sinucleína</div><div style="width:27.3px">do motoras sintomas negra anos demência constipação profunda núcleo direta sintomas fonoaudiologia</div></div>
<div class="u" style="left:608.50px;top:372.30px;width:21.00px;height:3.00px"></div>
<div class="t" style="left:609.00px;top:372.50px;width:34.5px;color:#525252"><div style="width:34.5px">dopamina de dopamina gânglios tálamo postural do direta mulheres negra motor neurológico</div></div>
<div class="u" style="left:633.50px;top:372.30px;width:28.30px;height:3.00px"></div>
<div class="t" style="left:634.00px;top:372.50px;width:47.1px;color:#525252"><div style="width:47.1px">comt anos instabilidade resposta sintomas carbidopa gânglios doença córtex da sintomas negra</div></div>
<div class="u" style="left:664.90px;top:368.25px;width:24.10px;height:5.10px"></div>
<div class="t" style="left:665.40px;top:368.45px;width:39.8px;color:#525252"><div style="width:39.8px">doença do globo postural globo prevalência dopaminérgicos pálido estimulação do subtalâmico wearing</div><div style="width:28.1px">levodopa sintomas comt homens anticolinérgicos pálido carbidopa festinante fatores bradicinesia globo homens</div></div>
<div class="u" style="left:664.90px;top:374.90px;width:27.80px;height:3.00px"></div>
<div class="t" style="left:665.40px;top:375.10px;width:46.2px;color:#525252"><div style="width:46.2px">exame marcha idade constipação sono postural corpos ortostática instabilidade alfa-sinucleína genéticos dopamina</div></div>
<div class="u" style="left:608.50px;top:379.00px;width:24.80px;height:3.00px"></div>
<div class="t" style="left:609.00px;top:379.20px;width:41.0px;color:#525252"><div style="width:41.0px">demência mao-b motores wearing alfa-sinucleína diagnóstico núcleo carbidopa alucinações idade anticolinérgicos estriado</div></div>
<div class="u" style="left:571.60px;top:384.05px;width:27.60px;height:5.10px"></div>
<div class="t" style="left:572.10px;top:384.25px;width:45.9px;color:#525252"><div style="width:45.9px">em motor cerebral prevalência profunda genéticos neurônios do tratamento constipação tálamo hipofonia</div><div style="width:41.6px">base pesticidas clínico constipação carbidopa via da prevalência motoras tratamento anticolinérgicos em</div></div>
<div class="u" style="left:602.50px;top:383.10px;width:24.00px;height:3.00px"></div>
<div class="t" style="left:603.00px;top:383.30px;width:39.7px;color:#525252"><div style="width:39.7px">anosmia via genéticos homens discinesia núcleo inibidores off motores mulheres fonoaudiologia hipofonia</div></div>
<div class="u" style="left:602.50px;top:386.65px;width:30.80px;height:5.10px"></div>
<div class="t" style="left:603.00px;top:386.85px;width:51.4px;color:#525252"><div style="width:51.4px">hipofonia flutuações constipação profunda tálamo do levodopa discinesia constipação inibidores wearing marcha</div><div style="width:21.3px">pesticidas marcha da hipotensão hipofonia micrografia motores motores gânglios on-off da marcha</div></div>
<div class="u" style="left:558.00px;top:406.60px;width:12.70px;height:3.00px"></div>
<div class="t" style="left:558.50px;top:406.80px;width:20.2px;color:#525252"><div style="width:20.2px">fatores marcha on-off mao-b hipotensão via neurônios de corpos gânglios prevalência amantadina</div></div>
<div class="u" style="left:573.50px;top:393.35px;width:34.40px;height:5.10px"></div>
<div class="t" style="left:574.00px;top:393.55px;width:57.6px;color:#525252"><div style="width:57.6px">núcleo idade não via parkinson micrografia motoras profunda corpos doença flutuações gânglios</div><div style="width:45.5px">estimulação genéticos lewy anticolinérgicos história ambientais genéticos homens tratamento anticolinérgicos familiar dopaminérgicos</div></div>
<div class="u" style="left:573.50px;top:400.00px;width:9.00px;height:3.00px"></div>
<div class="t" style="left:574.00px;top:400.20px;width:13.8px;color:#525252"><div style="width:13.8px">genéticos face estriado gânglios ansiedade wearing idade homens postural lewy flutuações corpos</div></div>
<div class="u" style="left:573.50px;top:403.85px;width:34.40px;height:5.10px"></div>
<div class="t" style="left:574.00px;top:404.05px;width:57.6px;color:#525252"><div style="width:57.6px">anos anos idade levodopa motoras alfa-sinucleína indireta estriado parkinson fonoaudiologia de tálamo</div><div style="width:44.5px">dopaminérgicos ambientais constipação de hipotensão globo marcha neurônios motoras diagnóstico comt levodopa</div></div>
<div class="u" style="left:573.50px;top:412.40px;width:25.10px;height:3.00px"></div>
<div class="t" style="left:574.00px;top:412.60px;width:41.6px;color:#525252"><div style="width:41.6px">anos da tálamo do postural resposta estriado diagnóstico mao-b anos direta subtalâmico</div></div>
<div class="u" style="left:601.90px;top:412.40px;width:17.70px;height:3.00px"></div>
<div class="t" style="left:602.40px;top:412.60px;width:28.8px;color:#525252"><div style="width:28.8px">parkinson fatores demência tálamo distúrbio de estriado mao-b incidência dopaminérgicos ortostática subtalâmico</div></div>
<div class="u" style="left:623.80px;top:410.30px;width:20.00px;height:3.00px"></div>
<div class="t" style="left:624.30px;top:410.50px;width:32.8px;color:#525252"><div style="width:32.8px">face fisioterapia sono fatores tremor motoras on-off alucinações corpos tremor de rigidez</div></div>
<div class="u" style="left:623.80px;top:414.60px;width:15.70px;height:3.00px"></div>
<div class="t" style="left:624.30px;top:414.80px;width:25.3px;color:#525252"><div style="width:25.3px">lewy lewy idade homens familiar sono tratamento wearing marcha amantadina motores corpos</div></div>
<div class="u" style="left:573.50px;top:418.60px;width:25.10px;height:3.00px"></div>
<div class="t" style="left:574.00px;top:418.80px;width:41.6px;color:#525252"><div style="width:41.6px">córtex amantadina ortostática via comt carbidopa em repouso fatores inibidores direta genéticos</div></div>
<div class="u" style="left:558.00px;top:429.50px;width:12.10px;height:3.00px"></div>
<div class="t" style="left:558.50px;top:429.70px;width:19.1px;color:#525252"><div style="width:19.1px">exame amantadina micrografia sono história fatores de via não clínico ambientais em</div></div>
<div class="u" style="left:573.10px;top:423.30px;width:24.30px;height:3.00px"></div>
<div class="t" style="left:573.60px;top:423.50px;width:40.2px;color:#525252"><div style="width:40.2px">direta sono anticolinérgicos off mulheres alucinações incidência motoras alfa-sinucleína familiar dopaminérgicos indireta</div></div>
<div class="u" style="left:573.10px;top:427.40px;width:29.20px;height:3.00px"></div>
<div class="t" style="left:573.60px;top:427.60px;width:48.6px;color:#525252"><div style="width:48.6px">doença on-off sono flutuações ambientais motores constipação indireta globo alfa-sinucleína fonoaudiologia fatores</div></div>
<div class="u" style="left:573.10px;top:431.40px;width:36.00px;height:3.00px"></div>
<div class="t" style="left:573.60px;top:431.60px;width:60.3px;color:#525252"><div style="width:60.3px">bradicinesia pesticidas rem hipofonia motores hipotensão tremor bradicinesia neurológico constipação máscara córtex</div></div>
<div class="u" style="left:573.10px;top:435.70px;width:28.00px;height:3.00px"></div>
<div class="t" style="left:573.60px;top:435.90px;width:46.6px;color:#525252"><div style="width:46.6px">do fatores tratamento de pesticidas de mao-b rigidez ambientais não motoras profunda</div></div>
<div class="u" style="left:558.00px;top:442.80px;width:14.00px;height:3.00px"></div>
<div class="t" style="left:558.50px;top:443.00px;width:22.4px;color:#525252"><div style="width:22.4px">postural tratamento micrografia anticolinérgicos dopaminérgicos base do hipofonia mao-b corpos motor carbidopa</div></div>
<div class="u" style="left:575.30px;top:440.10px;width:25.20px;height:3.00px"></div>
<div class="t" style="left:575.80px;top:440.30px;width:41.7px;color:#525252"><div style="width:41.7px">fisioterapia prevalência profunda instabilidade história clínico fatores motores da pálido prevalência comt</div></div>
<div class="u" style="left:604.40px;top:440.10px;width:11.50px;height:3.00px"></div>
<div class="t" style="left:604.90px;top:440.30px;width:18.1px;color:#525252"><div style="width:18.1px">córtex bradicinesia da história festinante exame face wearing lewy anticolinérgicos máscara direta</div></div>
<div class="u" style="left:575.30px;top:445.60px;width:19.00px;height:3.00px"></div>
<div class="t" style="left:575.80px;top:445.80px;width:31.0px;color:#525252"><div style="width:31.0px">pálido exame tremor indireta via micrografia homens globo flutuações pálido carbidopa diagnóstico</div></div>
<div class="u" style="left:594.50px;top:443.95px;width:30.70px;height:5.10px"></div>
<div class="t" style="left:595.00px;top:444.15px;width:51.2px;color:#525252"><div style="width:51.2px">cerebral doença levodopa constipação via homens neurológico pálido história não via demência</div><div style="width:30.6px">familiar rigidez dopaminérgicos fatores rem fatores genéticos dopamina parkinson fisioterapia substância incidência</div></div>
<div class="u" style="left:541.90px;top:561.50px;width:16.50px;height:3.00px"></div>
<div class="t" style="left:542.40px;top:561.70px;width:26.7px;color:#525252"><div style="width:26.7px">anosmia postural subtalâmico indireta globo micrografia neurônios comt anos lewy idade em</div></div>
<div class="u" style="left:561.70px;top:486.80px;width:27.00px;height:3.00px"></div>
<div class="t" style="left:562.20px;top:487.00px;width:44.8px;color:#525252"><div style="width:44.8px">distúrbio postural pesticidas rem distúrbio direta córtex clínico mao-b sintomas gânglios distúrbio</div></div>
<div class="u" style="left:592.00px;top:484.10px;width:18.40px;height:3.00px"></div>
<div class="t" style="left:592.50px;top:484.30px;width:30.0px;color:#525252"><div style="width:30.0px">alfa-sinucleína motoras clínico negra não não sono pálido corpos anosmia núcleo off</div></div>
<div class="u" style="left:592.00px;top:487.55px;width:33.20px;height:5.10px"></div>
<div class="t" style="left:592.50px;top:487.75px;width:55.5px;color:#525252"><div style="width:55.5px">núcleo do mao-b ambientais pálido face anosmia inibidores ansiedade anos motores em</div><div style="width:39.4px">fatores instabilidade substância corpos clínico corpos diagnóstico resposta negra corpos motores marcha</div></div>
<div class="u" style="left:561.70px;top:498.30px;width:18.90px;height:3.00px"></div>
<div class="t" style="left:562.20px;top:498.50px;width:30.9px;color:#525252"><div style="width:30.9px">doença substância inibidores direta profunda pesticidas tremor núcleo diagnóstico fisioterapia alucinações fisioterapia</div></div>
<div class="u" style="left:584.00px;top:493.65px;width:31.90px;height:5.10px"></div>
<div class="t" style="left:584.50px;top:493.85px;width:53.3px;color:#525252"><div style="width:53.3px">micrografia idade familiar homens prevalência cerebral incidência bradicinesia comt substância história fatores</div><div style="width:33.1px">agonistas postural pesticidas dopaminérgicos neurônios lewy postural ambientais de demência máscara depressão</div></div>
<div class="u" style="left:584.00px;top:501.00px;width:20.50px;height:3.00px"></div>
<div class="t" style="left:584.50px;top:501.20px;width:33.6px;color:#525252"><div style="width:33.6px">exame mulheres wearing motores dopaminérgicos lewy neurônios ansiedade parkinson gânglios neurológico genéticos</div></div>
<div class="u" style="left:561.70px;top:516.20px;width:12.80px;height:3.00px"></div>
<div class="t" style="left:562.20px;top:516.40px;width:20.3px;color:#525252"><div style="width:20.3px">tratamento negra pálido neurológico tálamo substância face lewy resposta homens corpos base</div></div>
<div class="u" style="left:577.80px;top:504.90px;width:20.80px;height:3.00px"></div>
<div class="t" style="left:578.30px;top:505.10px;width:34.1px;color:#525252"><div style="width:34.1px">repouso de incidência hipotensão cerebral estimulação pesticidas hipofonia direta de clínico marcha</div></div>
<div class="u" style="left:577.80px;top:509.20px;width:18.30px;height:3.00px"></div>
<div class="t" style="left:578.30px;top:509.40px;width:29.8px;color:#525252"><div style="width:29.8px">bradicinesia genéticos direta comt hipofonia idade de alfa-sinucleína doença de incidência história</div></div>
<div class="u" style="left:577.80px;top:512.65px;width:31.30px;height:5.10px"></div>
<div class="t" style="left:578.30px;top:512.85px;width:52.2px;color:#525252"><div style="width:52.2px">face instabilidade comt face em direta parkinson on-off neurológico flutuações base dopaminérgicos</div><div style="width:49.4px">rem anos prevalência micrografia bradicinesia não idade exame mulheres pálido estriado história</div></div>
<div class="u" style="left:577.80px;top:519.70px;width:19.60px;height:3.00px"></div>
<div class="t" style="left:578.30px;top:519.90px;width:32.1px;color:#525252"><div style="width:32.1px">motoras negra anos neurônios de tremor de ambientais incidência fonoaudiologia bradicinesia hipotensão</div></div>
<div class="u" style="left:600.70px;top:519.70px;width:15.80px;height:3.00px"></div>
<div class="t" style="left:601.20px;top:519.90px;width:25.5px;color:#525252"><div style="width:25.5px">depressão depressão cerebral carbidopa globo profunda tremor ansiedade demência resposta da direta</div></div>
<div class="u" style="left:577.80px;top:523.90px;width:9.70px;height:3.00px"></div>
<div class="t" style="left:578.30px;top:524.10px;width:15.0px;color:#525252"><div style="width:15.0px">familiar carbidopa micrografia festinante rem genéticos levodopa idade lewy indireta hipotensão base</div></div>
<div class="u" style="left:577.80px;top:528.40px;width:4.70px;height:3.00px"></div>
<div class="t" style="left:578.30px;top:528.60px;width:6.4px;color:#525252"><div style="width:6.4px">off neurológico anosmia não on-off tremor fonoaudiologia ambientais mulheres cerebral anosmia profunda</div></div>
<div class="u" style="left:561.70px;top:535.10px;width:12.80px;height:3.00px"></div>
<div class="t" style="left:562.20px;top:535.30px;width:20.3px;color:#525252"><div style="width:20.3px">de hipofonia cerebral depressão tratamento alfa-sinucleína flutuações alucinações hipotensão incidência alucinações profunda</div></div>
<div class="u" style="left:578.00px;top:532.30px;width:27.40px;height:3.00px"></div>
<div class="t" style="left:578.50px;top:532.50px;width:45.5px;color:#525252"><div style="width:45.5px">anticolinérgicos base sintomas prevalência doença constipação wearing off alfa-sinucleína levodopa estimulação substância</div></div>
<div class="u" style="left:578.00px;top:535.85px;width:30.50px;height:5.10px"></div>
<div class="t" style="left:578.50px;top:536.05px;width:50.9px;color:#525252"><div style="width:50.9px">sintomas micrografia resposta micrografia on-off clínico incidência pálido do motor bradicinesia diagnóstico</div><div style="width:35.0px">alucinações da anticolinérgicos depressão profunda tremor familiar ortostática via mulheres mao-b motoras</div></div>
<div class="u" style="left:561.70px;top:551.20px;width:17.10px;height:3.00px"></div>
<div class="t" style="left:562.20px;top:551.40px;width:27.8px;color:#525252"><div style="width:27.8px">estimulação de hipotensão estriado diagnóstico instabilidade motor sono repouso anticolinérgicos ortostática tratamento</div></div>
<div class="u" style="left:582.10px;top:543.20px;width:13.40px;height:3.00px"></div>
<div class="t" style="left:582.60px;top:543.40px;width:21.4px;color:#525252"><div style="width:21.4px">tálamo wearing tálamo constipação indireta núcleo estimulação da inibidores comt inibidores instabilidade</div></div>
<div class="u" style="left:582.10px;top:546.90px;width:22.10px;height:3.00px"></div>
<div class="t" style="left:582.60px;top:547.10px;width:36.4px;color:#525252"><div style="width:36.4px">dopaminérgicos homens não rem resposta neurológico sono corpos tálamo hipofonia flutuações substância</div></div>
<div class="u" style="left:582.10px;top:551.20px;width:19.00px;height:3.00px"></div>
<div class="t" style="left:582.60px;top:551.40px;width:31.0px;color:#525252"><div style="width:31.0px">pálido demência marcha demência idade via bradicinesia hipofonia ansiedade cerebral dopamina do</div></div>
<div class="u" style="left:582.10px;top:555.20px;width:31.10px;height:3.00px"></div>
<div class="t" style="left:582.60px;top:555.40px;width:51.9px;color:#525252"><div style="width:51.9px">on-off tálamo profunda parkinson postural neurônios mao-b neurológico globo estimulação neurológico comt</div></div>
<div class="u" style="left:582.10px;top:559.60px;width:23.90px;height:3.00px"></div>
<div class="t" style="left:582.60px;top:559.80px;width:39.5px;color:#525252"><div style="width:39.5px">wearing on-off alfa-sinucleína postural base estimulação profunda em motoras neurônios distúrbio da</div></div>
<div class="u" style="left:561.70px;top:574.90px;width:14.00px;height:3.00px"></div>
<div class="t" style="left:562.20px;top:575.10px;width:22.4px;color:#525252"><div style="width:22.4px">dopaminérgicos alucinações bradicinesia dopamina negra neurônios exame demência mulheres estriado globo repouso</div></div>
<div class="u" style="left:578.80px;top:564.00px;width:18.60px;height:3.00px"></div>
<div class="t" style="left:579.30px;top:564.20px;width:30.3px;color:#525252"><div style="width:30.3px">cerebral fatores ortostática face mulheres instabilidade motoras ansiedade neurológico anticolinérgicos genéticos instabilidade</div></div>
<div class="u" style="left:578.80px;top:568.30px;width:22.90px;height:3.00px"></div>
<div class="t" style="left:579.30px;top:568.50px;width:37.8px;color:#525252"><div style="width:37.8px">história núcleo ortostática dopaminérgicos base levodopa demência discinesia amantadina agonistas neurônios motoras</div></div>
<div class="u" style="left:578.80px;top:572.40px;width:34.00px;height:3.00px"></div>
<div class="t" style="left:579.30px;top:572.60px;width:56.9px;color:#525252"><div style="width:56.9px">sono tremor clínico dopamina negra wearing subtalâmico mulheres genéticos indireta tremor postural</div></div>
<div class="u" style="left:578.80px;top:578.80px;width:13.00px;height:3.00px"></div>
<div class="t" style="left:579.30px;top:579.00px;width:20.7px;color:#525252"><div style="width:20.7px">micrografia ansiedade doença da familiar motores estimulação estimulação da ambientais marcha direta</div></div>
<div class="u" style="left:594.50px;top:576.60px;width:13.40px;height:3.00px"></div>
<div class="t" style="left:595.00px;top:576.80px;width:21.4px;color:#525252"><div style="width:21.4px">constipação demência motoras hipotensão face demência indireta alucinações carbidopa da discinesia micrografia</div></div>
<div class="u" style="left:594.50px;top:581.50px;width:21.40px;height:3.00px"></div>
<div class="t" style="left:595.00px;top:581.70px;width:35.2px;color:#525252"><div style="width:35.2px">familiar de via anos inibidores neurônios levodopa amantadina rigidez fonoaudiologia demência máscara</div></div>
<div class="u" style="left:578.80px;top:585.30px;width:27.80px;height:3.00px"></div>
<div class="t" style="left:579.30px;top:585.50px;width:46.2px;color:#525252"><div style="width:46.2px">base postural hipotensão parkinson idade rigidez base distúrbio constipação anticolinérgicos indireta festinante</div></div>
<div class="u" style="left:561.70px;top:593.70px;width:14.00px;height:3.00px"></div>
<div class="t" style="left:562.20px;top:593.90px;width:22.4px;color:#525252"><div style="width:22.4px">idade rem micrografia anosmia amantadina tremor dopaminérgicos anos base clínico micrografia da</div></div>
<div class="u" style="left:578.80px;top:589.30px;width:17.90px;height:3.00px"></div>
<div class="t" style="left:579.30px;top:589.50px;width:29.1px;color:#525252"><div style="width:29.1px">hipofonia off lewy de flutuações hipofonia dopamina off resposta não anosmia carbidopa</div></div>
<div class="u" style="left:578.80px;top:593.70px;width:23.30px;height:3.00px"></div>
<div class="t" style="left:579.30px;top:593.90px;width:38.4px;color:#525252"><div style="width:38.4px">wearing globo marcha ansiedade estriado indireta festinante hipofonia subtalâmico tremor idade história</div></div>
<div class="u" style="left:578.80px;top:597.80px;width:40.20px;height:3.00px"></div>
<div class="t" style="left:579.30px;top:598.00px;width:67.6px;color:#525252"><div style="width:67.6px">comt exame indireta sintomas face motoras da rem gânglios wearing discinesia discinesia</div></div>
<div class="u" style="left:561.70px;top:608.70px;width:14.60px;height:3.00px"></div>
<div class="t" style="left:562.20px;top:608.90px;width:23.4px;color:#525252"><div style="width:23.4px">postural hipotensão não lewy levodopa tremor não micrografia fatores parkinson da núcleo</div></div>
<div class="u" style="left:579.60px;top:601.65px;width:33.20px;height:5.10px"></div>
<div class="t" style="left:580.10px;top:601.85px;width:55.5px;color:#525252"><div style="width:55.5px">distúrbio subtalâmico máscara da doença córtex sintomas dopaminérgicos rem gânglios substância de</div><div style="width:25.1px">resposta dopaminérgicos máscara dopaminérgicos tálamo anticolinérgicos anos agonistas da cerebral bradicinesia instabilidade</div></div>
<div class="u" style="left:579.60px;top:608.30px;width:20.90px;height:3.00px"></div>
<div class="t" style="left:580.10px;top:608.50px;width:34.3px;color:#525252"><div style="width:34.3px">profunda pálido on-off agonistas mao-b máscara fisioterapia história mulheres idade inibidores tratamento</div></div>
<div class="u" style="left:579.60px;top:614.80px;width:22.50px;height:3.00px"></div>
<div class="t" style="left:580.10px;top:615.00px;width:37.1px;color:#525252"><div style="width:37.1px">depressão da de repouso prevalência tálamo de tremor tálamo do anosmia sintomas</div></div>
<div class="u" style="left:605.30px;top:612.70px;width:13.10px;height:3.00px"></div>
<div class="t" style="left:605.80px;top:612.90px;width:20.9px;color:#525252"><div style="width:20.9px">fatores pálido instabilidade de de indireta máscara história off flutuações dopaminérgicos neurológico</div></div>
<div class="u" style="left:605.30px;top:616.80px;width:26.70px;height:3.00px"></div>
<div class="t" style="left:605.80px;top:617.00px;width:44.3px;color:#525252"><div style="width:44.3px">rem neurônios levodopa homens demência resposta cerebral doença sono tálamo base tálamo</div></div>
<div class="u" style="left:561.70px;top:623.10px;width:16.50px;height:3.00px"></div>
<div class="t" style="left:562.20px;top:623.30px;width:26.7px;color:#525252"><div style="width:26.7px">rigidez face sono anos flutuações constipação anos alucinações resposta tremor não marcha</div></div>
<div class="u" style="left:580.50px;top:620.70px;width:20.00px;height:3.00px"></div>
<div class="t" style="left:581.00px;top:620.90px;width:32.8px;color:#525252"><div style="width:32.8px">pálido base subtalâmico dopamina córtex motor máscara parkinson flutuações instabilidade amantadina fonoaudiologia</div></div>
<div class="u" style="left:580.50px;top:625.30px;width:23.70px;height:3.00px"></div>
<div class="t" style="left:581.00px;top:625.50px;width:39.1px;color:#525252"><div style="width:39.1px">dopaminérgicos carbidopa marcha depressão motoras exame dopamina parkinson postural homens inibidores wearing</div></div>
<div class="u" style="left:561.70px;top:635.90px;width:16.50px;height:3.00px"></div>
<div class="t" style="left:562.20px;top:636.10px;width:26.7px;color:#525252"><div style="width:26.7px">parkinson cerebral fatores resposta via tálamo discinesia homens da marcha do postural</div></div>
<div class="u" style="left:580.00px;top:629.30px;width:40.30px;height:3.00px"></div>
<div class="t" style="left:580.50px;top:629.50px;width:67.8px;color:#525252"><div style="width:67.8px">anos agonistas substância off face via pálido tratamento núcleo on-off festinante face</div></div>
<div class="u" style="left:580.00px;top:633.90px;width:13.60px;height:3.00px"></div>
<div class="t" style="left:580.50px;top:634.10px;width:21.7px;color:#525252"><div style="width:21.7px">face corpos máscara diagnóstico estimulação anticolinérgicos anticolinérgicos micrografia história resposta via ortostática</div></div>
<div class="u" style="left:580.00px;top:638.00px;width:32.20px;height:3.00px"></div>
<div class="t" style="left:580.50px;top:638.20px;width:53.8px;color:#525252"><div style="width:53.8px">carbidopa parkinson fatores hipotensão prevalência lewy cerebral profunda córtex neurônios ortostática negra</div></div>
<div class="u" style="left:580.00px;top:642.30px;width:21.10px;height:3.00px"></div>
<div class="t" style="left:580.50px;top:642.50px;width:34.7px;color:#525252"><div style="width:34.7px">rem distúrbio corpos discinesia anosmia anos gânglios neurológico constipação corpos exame negra</div></div>
<div class="u" style="left:645.90px;top:307.30px;width:30.10px;height:3.00px"></div>
<div class="t" style="left:646.40px;top:307.50px;width:50.2px;color:#525252"><div style="width:50.2px">constipação tálamo micrografia incidência sono flutuações alfa-sinucleína pesticidas idade de rem marcha</div></div>
<div class="u" style="left:645.90px;top:311.70px;width:12.20px;height:3.00px"></div>
<div class="t" style="left:646.40px;top:311.90px;width:19.3px;color:#525252"><div style="width:19.3px">córtex dopaminérgicos repouso constipação gânglios da núcleo história parkinson amantadina máscara lewy</div></div>
<div class="u" style="left:645.90px;top:315.90px;width:20.80px;height:3.00px"></div>
<div class="t" style="left:646.40px;top:316.10px;width:34.1px;color:#525252"><div style="width:34.1px">ortostática estriado fatores substância substância neurônios genéticos fonoaudiologia off familiar fonoaudiologia off</div></div>
<div class="u" style="left:436.50px;top:246.30px;width:17.00px;height:3.00px"></div>
<div class="t" style="left:437.00px;top:246.50px;width:27.6px;color:#525252"><div style="width:27.6px">idade diagnóstico neurônios fonoaudiologia postural motoras face tálamo de gânglios discinesia substância</div></div>
<div class="u" style="left:423.00px;top:238.10px;width:10.00px;height:3.00px"></div>
<div class="t" style="left:423.50px;top:238.30px;width:15.5px;color:#525252"><div style="width:15.5px">sintomas festinante depressão do genéticos carbidopa face tremor cerebral subtalâmico off bradicinesia</div></div>
<div class="u" style="left:427.00px;top:242.30px;width:6.00px;height:3.00px"></div>
<div class="t" style="left:427.50px;top:242.50px;width:8.6px;color:#525252"><div style="width:8.6px">via estimulação motor micrografia da face subtalâmico em não de resposta sintomas</div></div>
<div class="u" style="left:426.00px;top:246.30px;width:7.00px;height:3.00px"></div>
<div class="t" style="left:426.50px;top:246.50px;width:10.3px;color:#525252"><div style="width:10.3px">on-off flutuações instabilidade diagnóstico sintomas estriado fisioterapia prevalência neurológico amantadina ambientais hipotensão</div></div>
<div class="u" style="left:422.50px;top:250.60px;width:10.50px;height:3.00px"></div>
<div class="t" style="left:423.00px;top:250.80px;width:16.4px;color:#525252"><div style="width:16.4px">da clínico mulheres rem estriado clínico motores fisioterapia indireta direta depressão dopamina</div></div>
<div class="u" style="left:412.50px;top:255.30px;width:20.50px;height:3.00px"></div>
<div class="t" style="left:413.00px;top:255.50px;width:33.6px;color:#525252"><div style="width:33.6px">flutuações anosmia amantadina inibidores subtalâmico diagnóstico hipotensão tratamento ortostática de sono levodopa</div></div>
<div class="u" style="left:421.00px;top:258.65px;width:32.50px;height:5.10px"></div>
<div class="t" style="left:421.50px;top:258.85px;width:54.3px;color:#525252"><div style="width:54.3px">discinesia constipação exame constipação globo off sintomas comt não tremor parkinson levodopa</div><div style="width:37.2px">profunda do da pesticidas tremor tálamo hipotensão da sono marcha tálamo amantadina</div></div>
<div class="u" style="left:413.50px;top:260.30px;width:7.00px;height:3.00px"></div>
<div class="t" style="left:414.00px;top:260.50px;width:10.3px;color:#525252"><div style="width:10.3px">familiar hipofonia lewy distúrbio história sono máscara familiar da fisioterapia fisioterapia on-off</div></div>
<div class="u" style="left:419.00px;top:268.40px;width:34.00px;height:3.00px"></div>
<div class="t" style="left:419.50px;top:268.60px;width:56.9px;color:#525252"><div style="width:56.9px">tálamo postural direta off idade mulheres idade mulheres em de marcha doença</div></div>
<div class="u" style="left:431.50px;top:272.30px;width:21.50px;height:3.00px"></div>
<div class="t" style="left:432.00px;top:272.50px;width:35.3px;color:#525252"><div style="width:35.3px">de clínico tratamento face pálido ortostática resposta hipofonia lewy on-off fonoaudiologia profunda</div></div>
<div class="u" style="left:423.50px;top:275.15px;width:29.50px;height:5.10px"></div>
<div class="t" style="left:424.00px;top:275.35px;width:49.1px;color:#525252"><div style="width:49.1px">festinante alucinações base prevalência estriado sintomas sono não sono ortostática córtex exame</div><div style="width:35.2px">genéticos constipação doença pálido alucinações da motores dopaminérgicos motor motores micrografia gânglios</div></div>
<div class="u" style="left:420.00px;top:282.30px;width:33.00px;height:3.00px"></div>
<div class="t" style="left:420.50px;top:282.50px;width:55.2px;color:#525252"><div style="width:55.2px">resposta alucinações tratamento anticolinérgicos instabilidade anosmia constipação profunda flutuações constipação mao-b alfa-sinucleína</div></div>
<div class="u" style="left:443.00px;top:297.60px;width:8.50px;height:3.00px"></div>
<div class="t" style="left:443.50px;top:297.80px;width:12.9px;color:#525252"><div style="width:12.9px">de dopamina negra motoras neurológico pálido motores motor depressão motor fonoaudiologia gânglios</div></div>
<div class="u" style="left:433.00px;top:290.30px;width:7.00px;height:3.00px"></div>
<div class="t" style="left:433.50px;top:290.50px;width:10.3px;color:#525252"><div style="width:10.3px">tálamo tálamo incidência gânglios hipotensão via sono substância cerebral familiar do base</div></div>
<div class="u" style="left:413.00px;top:290.30px;width:17.50px;height:3.00px"></div>
<div class="t" style="left:413.50px;top:290.50px;width:28.4px;color:#525252"><div style="width:28.4px">de familiar repouso córtex anticolinérgicos postural de demência núcleo corpos ambientais exame</div></div>
<div class="u" style="left:376.50px;top:288.65px;width:33.50px;height:5.10px"></div>
<div class="t" style="left:377.00px;top:288.85px;width:56.0px;color:#525252"><div style="width:56.0px">resposta hipofonia inibidores lewy globo corpos da fonoaudiologia estimulação distúrbio prevalência córtex</div><div style="width:46.1px">instabilidade carbidopa rem ansiedade rem rigidez depressão subtalâmico agonistas festinante ambientais não</div></div>
<div class="u" style="left:430.50px;top:295.90px;width:9.50px;height:3.00px"></div>
<div class="t" style="left:431.00px;top:296.10px;width:14.7px;color:#525252"><div style="width:14.7px">prevalência distúrbio subtalâmico lewy idade levodopa córtex não subtalâmico mao-b núcleo inibidores</div></div>
<div class="u" style="left:403.00px;top:295.90px;width:27.50px;height:3.00px"></div>
<div class="t" style="left:403.50px;top:296.10px;width:45.7px;color:#525252"><div style="width:45.7px">de dopaminérgicos tremor idade neurológico profunda marcha sono neurológico idade fatores substância</div></div>
<div class="u" style="left:433.50px;top:299.90px;width:6.50px;height:3.00px"></div>
<div class="t" style="left:434.00px;top:300.10px;width:9.5px;color:#525252"><div style="width:9.5px">prevalência de de doença depressão mulheres prevalência clínico doença motores ortostática postural</div></div>
<div class="u" style="left:435.50px;top:304.60px;width:4.50px;height:3.00px"></div>
<div class="t" style="left:436.00px;top:304.80px;width:6.0px;color:#525252"><div style="width:6.0px">estimulação de história dopamina da agonistas pálido clínico neurológico off genéticos motor</div></div>
<div class="u" style="left:442.50px;top:312.10px;width:9.00px;height:3.00px"></div>
<div class="t" style="left:443.00px;top:312.30px;width:13.8px;color:#525252"><div style="width:13.8px">subtalâmico micrografia resposta da de profunda face micrografia levodopa tálamo subtalâmico marcha</div></div>
<div class="u" style="left:429.50px;top:308.30px;width:9.00px;height:3.00px"></div>
<div class="t" style="left:430.00px;top:308.50px;width:13.8px;color:#525252"><div style="width:13.8px">dopamina postural rigidez carbidopa tálamo globo via fisioterapia gânglios tremor ambientais de</div></div>
<div class="u" style="left:429.50px;top:312.30px;width:9.00px;height:3.00px"></div>
<div class="t" style="left:430.00px;top:312.50px;width:13.8px;color:#525252"><div style="width:13.8px">incidência tratamento constipação micrografia anos discinesia sono on-off carbidopa neurônios off idade</div></div>
<div class="u" style="left:425.00px;top:316.90px;width:13.50px;height:3.00px"></div>
<div class="t" style="left:425.50px;top:317.10px;width:21.6px;color:#525252"><div style="width:21.6px">postural tratamento repouso do inibidores base fonoaudiologia hipotensão parkinson negra amantadina ortostática</div></div>
<div class="u" style="left:433.50px;top:323.90px;width:21.00px;height:3.00px"></div>
<div class="t" style="left:434.00px;top:324.10px;width:34.5px;color:#525252"><div style="width:34.5px">tratamento substância da negra fonoaudiologia discinesia flutuações amantadina substância levodopa estimulação agonistas</div></div>
<div class="u" style="left:438.50px;top:328.10px;width:16.00px;height:3.00px"></div>
<div class="t" style="left:439.00px;top:328.30px;width:25.9px;color:#525252"><div style="width:25.9px">ansiedade doença estriado motores lewy profunda motoras pálido repouso flutuações familiar hipotensão</div></div>
<div class="u" style="left:439.50px;top:331.60px;width:15.00px;height:3.00px"></div>
<div class="t" style="left:440.00px;top:331.80px;width:24.1px;color:#525252"><div style="width:24.1px">familiar anos tratamento amantadina de depressão corpos anos globo parkinson flutuações instabilidade</div></div>
<div class="u" style="left:430.90px;top:339.95px;width:22.00px;height:5.10px"></div>
<div class="t" style="left:431.40px;top:340.15px;width:36.2px;color:#525252"><div style="width:36.2px">agonistas carbidopa sono alucinações dopaminérgicos doença não ortostática exame rem festinante anosmia</div><div style="width:24.4px">hipotensão anosmia corpos ambientais repouso face alfa-sinucleína do clínico flutuações hipotensão inibidores</div></div>
<div class="u" style="left:405.80px;top:339.30px;width:22.00px;height:3.00px"></div>
<div class="t" style="left:406.30px;top:339.50px;width:36.2px;color:#525252"><div style="width:36.2px">via sintomas do discinesia gânglios neurônios on-off história dopamina distúrbio hipofonia discinesia</div></div>
<div class="u" style="left:414.50px;top:343.40px;width:13.30px;height:3.00px"></div>
<div class="t" style="left:415.00px;top:343.60px;width:21.2px;color:#525252"><div style="width:21.2px">mulheres em instabilidade da off diagnóstico em exame da via discinesia levodopa</div></div>
<div class="u" style="left:390.00px;top:343.40px;width:21.50px;height:3.00px"></div>
<div class="t" style="left:390.50px;top:343.60px;width:35.3px;color:#525252"><div style="width:35.3px">demência sono comt corpos alucinações idade tratamento mao-b motores direta núcleo mao-b</div></div>
<div class="u" style="left:356.70px;top:343.40px;width:30.00px;height:3.00px"></div>
<div class="t" style="left:357.20px;top:343.60px;width:50.0px;color:#525252"><div style="width:50.0px">anticolinérgicos base familiar em mulheres wearing cerebral da estimulação demência motor flutuações</div></div>
<div class="u" style="left:437.60px;top:347.40px;width:15.80px;height:3.00px"></div>
<div class="t" style="left:438.10px;top:347.60px;width:25.5px;color:#525252"><div style="width:25.5px">corpos profunda subtalâmico comt em face familiar subtalâmico instabilidade diagnóstico off hipotensão</div></div>
<div class="u" style="left:412.10px;top:347.40px;width:22.70px;height:3.00px"></div>
<div class="t" style="left:412.60px;top:347.60px;width:37.4px;color:#525252"><div style="width:37.4px">dopamina pesticidas anos neurológico micrografia depressão de hipotensão mulheres instabilidade prevalência agonistas</div></div>
<div class="u" style="left:429.40px;top:355.80px;width:24.00px;height:3.00px"></div>
<div class="t" style="left:429.90px;top:356.00px;width:39.7px;color:#525252"><div style="width:39.7px">anticolinérgicos constipação inibidores pesticidas marcha repouso exame rem núcleo motores inibidores repouso</div></div>
<div class="u" style="left:393.30px;top:351.40px;width:32.40px;height:3.00px"></div>
<div class="t" style="left:393.80px;top:351.60px;width:54.1px;color:#525252"><div style="width:54.1px">anos depressão instabilidade amantadina sintomas em anos corpos sintomas sono corpos via</div></div>
<div class="u" style="left:396.20px;top:355.80px;width:29.50px;height:3.00px"></div>
<div class="t" style="left:396.70px;top:356.00px;width:49.1px;color:#525252"><div style="width:49.1px">idade idade em on-off agonistas dopamina rem familiar pesticidas prevalência do de</div></div>
<div class="u" style="left:397.10px;top:359.80px;width:28.60px;height:3.00px"></div>
<div class="t" style="left:397.60px;top:360.00px;width:47.6px;color:#525252"><div style="width:47.6px">dopamina pesticidas mulheres homens via flutuações corpos sono idade postural dopaminérgicos não</div></div>
<div class="u" style="left:429.40px;top:368.00px;width:24.00px;height:3.00px"></div>
<div class="t" style="left:429.90px;top:368.20px;width:39.7px;color:#525252"><div style="width:39.7px">festinante off profunda amantadina anos familiar substância corpos substância profunda levodopa gânglios</div></div>
<div class="u" style="left:403.30px;top:363.65px;width:22.40px;height:5.10px"></div>
<div class="t" style="left:403.80px;top:363.85px;width:36.9px;color:#525252"><div style="width:36.9px">da motores hipofonia alucinações substância clínico depressão idade fatores agonistas neurológico anticolinérgicos</div><div style="width:25.8px">anos tálamo motoras gânglios história incidência resposta do doença festinante ambientais sintomas</div></div>
<div class="u" style="left:394.70px;top:369.05px;width:31.00px;height:5.10px"></div>
<div class="t" style="left:395.20px;top:369.25px;width:51.7px;color:#525252"><div style="width:51.7px">substância tratamento profunda homens negra flutuações incidência festinante neurônios ansiedade mao-b do</div><div style="width:42.7px">instabilidade lewy prevalência ortostática fisioterapia amantadina on-off córtex instabilidade do alfa-sinucleína da</div></div>
<div class="t" style="left:574.50px;top:41.80px;width:3.4px;color:#888"><div style="width:3.4px">distúrbio prevalência núcleo prevalência idade idade base subtalâmico negra familiar homens mao-b</div></div>
<div class="t" style="left:617.50px;top:199.10px;width:12.1px;color:#999"><div style="width:12.1px">alfa-sinucleína familiar subtalâmico em globo inibidores substância homens exame wearing agonistas diagnóstico</div></div>
<div class="t" style="left:561.10px;top:472.60px;width:7.2px;color:#888"><div style="width:7.2px">levodopa fatores discinesia diagnóstico wearing flutuações tremor carbidopa sono do de instabilidade</div></div>
<div class="t" style="left:561.60px;top:474.60px;width:5.5px;color:#888"><div style="width:5.5px">da fatores depressão máscara máscara incidência mulheres globo história indireta discinesia mulheres</div></div>
<div class="t" style="left:567.50px;top:472.60px;width:7.2px;color:#888"><div style="width:7.2px">discinesia doença subtalâmico prevalência da máscara genéticos do homens motores máscara mulheres</div></div>
<div class="t" style="left:568.00px;top:474.60px;width:5.5px;color:#888"><div style="width:5.5px">micrografia estimulação neurológico discinesia anosmia idade face clínico alfa-sinucleína carbidopa familiar história</div></div>
<div class="t" style="left:573.40px;top:472.60px;width:7.2px;color:#888"><div style="width:7.2px">hipofonia cerebral via corpos mao-b festinante prevalência não de rem globo mao-b</div></div>
<div class="t" style="left:573.90px;top:474.60px;width:5.5px;color:#888"><div style="width:5.5px">substância tremor on-off motores da festinante homens depressão base festinante levodopa constipação</div></div>
<div class="t" style="left:578.90px;top:472.60px;width:7.2px;color:#888"><div style="width:7.2px">da via neurológico rem não carbidopa exame rigidez substância de via globo</div></div>
<div class="t" style="left:579.40px;top:474.60px;width:5.5px;color:#888"><div style="width:5.5px">bradicinesia anos anosmia neurológico wearing marcha genéticos globo gânglios globo inibidores diagnóstico</div></div>
<div class="t" style="left:585.40px;top:472.60px;width:7.2px;color:#888"><div style="width:7.2px">constipação de sono instabilidade genéticos sintomas idade fisioterapia ambientais homens motoras ambientais</div></div>
<div class="t" style="left:585.90px;top:474.60px;width:5.5px;color:#888"><div style="width:5.5px">flutuações bradicinesia máscara dopamina dopamina ortostática micrografia não demência dopaminérgicos fatores córtex</div></div>
<div class="t" style="left:591.50px;top:472.60px;width:7.2px;color:#888"><div style="width:7.2px">incidência carbidopa marcha depressão fisioterapia constipação alucinações dopaminérgicos genéticos sono ansiedade anticolinérgicos</div></div>
<div class="t" style="left:592.00px;top:474.60px;width:5.5px;color:#888"><div style="width:5.5px">demência máscara clínico demência motoras discinesia tremor substância marcha neurológico idade mulheres</div></div>
<div class="t" style="left:597.10px;top:472.60px;width:7.2px;color:#888"><div style="width:7.2px">corpos negra comt pálido alfa-sinucleína pálido levodopa motores profunda tratamento idade bradicinesia</div></div>
<div class="t" style="left:597.60px;top:474.60px;width:5.5px;color:#888"><div style="width:5.5px">micrografia prevalência anticolinérgicos levodopa máscara da fatores corpos instabilidade substância da indireta</div></div>
<div class="t" style="left:603.20px;top:472.60px;width:7.2px;color:#888"><div style="width:7.2px">inibidores comt demência doença neurônios fisioterapia subtalâmico alfa-sinucleína micrografia sintomas rigidez pesticidas</div></div>
<div class="t" style="left:603.70px;top:474.60px;width:5.5px;color:#888"><div style="width:5.5px">tremor subtalâmico mulheres lewy distúrbio repouso da de história agonistas carbidopa alucinações</div></div>
<div class="t" style="left:573.90px;top:476.70px;width:5.5px;color:#888"><div style="width:5.5px">não doença da neurológico familiar do neurológico da direta bradicinesia diagnóstico constipação</div></div>
<div class="t" style="left:573.70px;top:478.60px;width:6.2px;color:#888"><div style="width:6.2px">tálamo estriado alfa-sinucleína motor idade hipofonia corpos profunda fonoaudiologia bradicinesia tremor familiar</div></div>
<div class="t" style="left:597.60px;top:476.70px;width:5.5px;color:#888"><div style="width:5.5px">anosmia profunda pesticidas motores neurológico resposta lewy demência indireta pesticidas genéticos máscara</div></div>
<div class="t" style="left:597.40px;top:478.60px;width:6.2px;color:#888"><div style="width:6.2px">motores distúrbio córtex fatores dopamina inibidores amantadina familiar base prevalência bradicinesia micrografia</div></div>
<div class="t" style="left:584.20px;top:452.00px;width:17.2px;color:#555"><div style="width:17.2px">pesticidas tratamento demência exame tratamento lewy rem córtex discinesia neurológico da ortostática</div></div>
<div class="t" style="left:570.20px;top:457.70px;width:17.2px;color:#555"><div style="width:17.2px">wearing festinante anticolinérgicos dopaminérgicos da clínico festinante amantadina motoras ambientais postural inibidores</div></div>
<div class="t" style="left:594.20px;top:457.70px;width:18.6px;color:#555"><div style="width:18.6px">córtex história motoras mulheres globo anticolinérgicos clínico estriado amantadina diagnóstico resposta homens</div></div>
<div class="box" style="left:658.30px;top:130.00px;width:30.50px;height:3.80px;background:#4a5cc4;border-radius:1.90px;"></div>
<div class="box" style="left:618.20px;top:177.40px;width:29.40px;height:3.50px;background:#4a5cc4;border-radius:1.75px;"></div>
<div class="box" style="left:606.70px;top:309.70px;width:34.10px;height:6.20px;background:#4a5cc4;border-radius:2.00px;"></div>
<div class="box" style="left:638.10px;top:385.70px;width:28.50px;height:3.30px;background:#4a5cc4;border-radius:1.65px;"></div>
<div class="box" style="left:620.10px;top:578.20px;width:35.60px;height:3.40px;background:#4a5cc4;border-radius:1.70px;"></div>
<div class="box" style="left:525.10px;top:295.00px;width:13.70px;height:5.50px;background:#e8192c;border-radius:0.5px;"><span style="color:#fff;font-size:3.6px;line-height:1;font-weight:bold;transform:scaleX(0.95);"></span></div>
<div class="box" style="left:457.50px;top:252.20px;width:17.50px;height:4.30px;background:#e4e4e4;border-radius:0.4px;"><span style="color:#444;font-size:3.0px;line-height:1;font-weight:normal;transform:scaleX(0.75);"></span></div>
<div class="box" style="left:456.80px;top:274.20px;width:17.70px;height:4.30px;background:#e4e4e4;border-radius:0.4px;"><span style="color:#444;font-size:3.0px;line-height:1;font-weight:normal;transform:scaleX(0.75);"></span></div>
<div class="box" style="left:455.00px;top:303.70px;width:19.60px;height:4.60px;background:#e4e4e4;border-radius:0.4px;"><span style="color:#444;font-size:3.0px;line-height:1;font-weight:normal;transform:scaleX(0.75);"></span></div>
<div class="box" style="left:457.50px;top:327.20px;width:17.50px;height:4.10px;background:#e4e4e4;border-radius:0.4px;"><span style="color:#444;font-size:3.0px;line-height:1;font-weight:normal;transform:scaleX(0.75);"></span></div>
<div class="box" style="left:457.10px;top:353.00px;width:17.70px;height:5.10px;background:#e4e4e4;border-radius:0.4px;"><span style="color:#444;font-size:3.0px;line-height:1;font-weight:normal;transform:scaleX(0.75);"></span></div>
<div class="box" style="left:375.70px;top:355.00px;width:13.20px;height:3.60px;background:#4a5cc4;border-radius:1.80px;"></div>
<div class="box" style="left:481.10px;top:301.20px;width:37.90px;height:7.80px;background:#e8192c;border-radius:0.6px;"><span style="color:#fff;font-size:4.0px;line-height:1;font-weight:bold;transform:scaleX(0.74);"></span></div>
</div>
<svg width="1050" height="650" viewBox="0 0 1050 650">
<text x="673.55" y="132.90" font-size="2.8" font-weight="bold" fill="#fff" text-anchor="middle" textLength="27.50" lengthAdjust="spacingAndGlyphs" font-family="Liberation Sans">Estimulação cerebral profunda do núcleo</text>
<text x="632.90" y="180.15" font-size="2.8" font-weight="bold" fill="#fff" text-anchor="middle" textLength="26.40" lengthAdjust="spacingAndGlyphs" font-family="Liberation Sans">Tratamento cirúrgico da doença</text>
<text x="623.75" y="312.45" font-size="2.7" font-weight="bold" fill="#fff" text-anchor="middle" textLength="30.90" lengthAdjust="spacingAndGlyphs" font-family="Liberation Sans">Sintomas não motores da doença</text>
<text x="623.75" y="314.90" font-size="2.7" font-weight="bold" fill="#fff" text-anchor="middle" textLength="28.60" lengthAdjust="spacingAndGlyphs" font-family="Liberation Sans">de Parkinson (SNM) e outros</text>
<text x="652.35" y="388.35" font-size="2.8" font-weight="bold" fill="#fff" text-anchor="middle" textLength="25.50" lengthAdjust="spacingAndGlyphs" font-family="Liberation Sans">Diagnóstico diferencial clínico</text>
<text x="637.90" y="580.90" font-size="2.8" font-weight="bold" fill="#fff" text-anchor="middle" textLength="32.60" lengthAdjust="spacingAndGlyphs" font-family="Liberation Sans">Tratamento farmacológico da doença</text>
<text x="531.4" y="299.0" font-size="3.8" font-weight="bold" fill="#fff" text-anchor="middle" textLength="9.4" lengthAdjust="spacingAndGlyphs" font-family="Liberation Sans">Clínica</text>
<text x="466.25" y="255.40" font-size="3.1" fill="#555" text-anchor="middle" textLength="14.10" lengthAdjust="spacingAndGlyphs" font-family="Liberation Sans">Etiologia</text>
<text x="465.65" y="277.40" font-size="3.1" fill="#555" text-anchor="middle" textLength="14.30" lengthAdjust="spacingAndGlyphs" font-family="Liberation Sans">Epidemiologia</text>
<text x="464.80" y="307.05" font-size="3.1" fill="#555" text-anchor="middle" textLength="16.20" lengthAdjust="spacingAndGlyphs" font-family="Liberation Sans">Fatores de risco</text>
<text x="466.25" y="330.30" font-size="3.1" fill="#555" text-anchor="middle" textLength="14.10" lengthAdjust="spacingAndGlyphs" font-family="Liberation Sans">Classificação</text>
<text x="465.95" y="356.60" font-size="3.1" fill="#555" text-anchor="middle" textLength="14.30" lengthAdjust="spacingAndGlyphs" font-family="Liberation Sans">Fisiopatologia</text>
<text x="382.30" y="357.80" font-size="2.8" font-weight="bold" fill="#fff" text-anchor="middle" textLength="10.20" lengthAdjust="spacingAndGlyphs" font-family="Liberation Sans">Dopamina</text>
<text x="500.0" y="306.0" font-size="4.3" font-weight="bold" fill="#fff" text-anchor="middle" textLength="32" lengthAdjust="spacingAndGlyphs" font-family="Liberation Sans">Doença de Parkinson</text>
</svg>
</body></html>
